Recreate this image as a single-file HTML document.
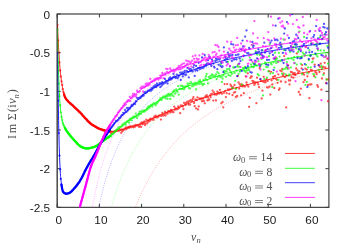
<!DOCTYPE html>
<html><head><meta charset="utf-8"><title>plot</title>
<style>html,body{margin:0;padding:0;background:#fff;overflow:hidden}svg{display:block;will-change:transform}</style>
</head><body>
<svg width="351" height="246" viewBox="0 0 351 246">
<defs><clipPath id="c"><rect x="57.2" y="14.0" width="271.70" height="193.35"/></clipPath></defs>
<rect width="351" height="246" fill="#fff"/>
<rect x="57.2" y="14.0" width="271.70" height="193.35" fill="none" stroke="#3a3a3a" stroke-width="1.15"/>
<path d="M57.20 207.35v-3.5M57.20 14.0v3.5M99.40 207.35v-3.5M99.40 14.0v3.5M141.60 207.35v-3.5M141.60 14.0v3.5M183.80 207.35v-3.5M183.80 14.0v3.5M226.00 207.35v-3.5M226.00 14.0v3.5M268.20 207.35v-3.5M268.20 14.0v3.5M310.40 207.35v-3.5M310.40 14.0v3.5M57.2 14.00h3.5M328.9 14.00h-3.5M57.2 52.67h3.5M328.9 52.67h-3.5M57.2 91.34h3.5M328.9 91.34h-3.5M57.2 130.01h3.5M328.9 130.01h-3.5M57.2 168.68h3.5M328.9 168.68h-3.5M57.2 207.35h3.5M328.9 207.35h-3.5" stroke="#3a3a3a" stroke-width="1" fill="none"/>
<g clip-path="url(#c)" fill="none">
<path d="M132.3 215.1 L133.3 212.5 L134.3 209.9 L135.3 207.4 L136.3 205.0 L137.3 202.7 L138.3 200.4 L139.3 198.1 L140.3 195.9 L141.3 193.8 L142.3 191.7 L143.2 189.6 L144.2 187.6 L145.2 185.7 L146.2 183.8 L147.2 181.9 L148.2 180.1 L149.2 178.3 L150.2 176.5 L151.2 174.8 L152.2 173.1 L153.1 171.5 L154.1 169.9 L155.1 168.3 L156.1 166.8 L157.1 165.3 L158.1 163.8 L159.1 162.3 L160.1 160.9 L161.1 159.5 L162.1 158.1 L163.0 156.8 L164.0 155.4 L165.0 154.1 L166.0 152.9 L167.0 151.6 L168.0 150.4 L169.0 149.2 L170.0 148.0 L171.0 146.8 L172.0 145.7 L172.9 144.6 L173.9 143.4 L174.9 142.4 L175.9 141.3 L176.9 140.2 L177.9 139.2 L178.9 138.2 L179.9 137.2 L180.9 136.2 L181.9 135.2 L182.8 134.3 L183.8 133.3 L184.8 132.4 L185.8 131.5 L186.8 130.6 L187.8 129.7 L188.8 128.8 L189.8 128.0 L190.8 127.1 L191.8 126.3 L192.7 125.5 L193.7 124.7 L194.7 123.9 L195.7 123.1 L196.7 122.3 L197.7 121.6 L198.7 120.8 L199.7 120.1 L200.7 119.3 L201.7 118.6 L202.6 117.9 L203.6 117.2 L204.6 116.5 L205.6 115.8 L206.6 115.1 L207.6 114.5 L208.6 113.8 L209.6 113.2 L210.6 112.5 L211.6 111.9 L212.6 111.3 L213.5 110.7 L214.5 110.0 L215.5 109.4 L216.5 108.9 L217.5 108.3 L218.5 107.7 L219.5 107.1 L220.5 106.6 L221.5 106.0 L222.5 105.4 L223.4 104.9 L224.4 104.4 L225.4 103.8 L226.4 103.3 L227.4 102.8 L228.4 102.3 L229.4 101.8 L230.4 101.3 L231.4 100.8 L232.4 100.3 L233.3 99.8 L234.3 99.3 L235.3 98.8 L236.3 98.4 L237.3 97.9 L238.3 97.4 L239.3 97.0 L240.3 96.5 L241.3 96.1 L242.3 95.7 L243.2 95.2 L244.2 94.8 L245.2 94.4 L246.2 93.9 L247.2 93.5 L248.2 93.1 L249.2 92.7 L250.2 92.3 L251.2 91.9 L252.2 91.5 L253.1 91.1 L254.1 90.7 L255.1 90.3 L256.1 90.0 L257.1 89.6 L258.1 89.2 L259.1 88.8 L260.1 88.5 L261.1 88.1 L262.1 87.8 L263.0 87.4 L264.0 87.1 L265.0 86.7 L266.0 86.4 L267.0 86.0 L268.0 85.7 L269.0 85.3 L270.0 85.0 L271.0 84.7 L272.0 84.4 L273.0 84.0 L273.9 83.7 L274.9 83.4 L275.9 83.1 L276.9 82.8 L277.9 82.5 L278.9 82.2 L279.9 81.9 L280.9 81.6 L281.9 81.3 L282.9 81.0 L283.8 80.7 L284.8 80.4 L285.8 80.1 L286.8 79.8 L287.8 79.5 L288.8 79.2 L289.8 79.0 L290.8 78.7 L291.8 78.4 L292.8 78.2 L293.7 77.9 L294.7 77.6 L295.7 77.4 L296.7 77.1 L297.7 76.8 L298.7 76.6 L299.7 76.3 L300.7 76.1 L301.7 75.8 L302.7 75.6 L303.6 75.3 L304.6 75.1 L305.6 74.8 L306.6 74.6 L307.6 74.3 L308.6 74.1 L309.6 73.9 L310.6 73.6 L311.6 73.4 L312.6 73.2 L313.5 72.9 L314.5 72.7 L315.5 72.5 L316.5 72.3 L317.5 72.1 L318.5 71.8 L319.5 71.6 L320.5 71.4 L321.5 71.2 L322.5 71.0 L323.4 70.8 L324.4 70.5 L325.4 70.3 L326.4 70.1 L327.4 69.9 L328.4 69.7 L329.4 69.5" stroke="#ff0000" stroke-width="0.6" stroke-dasharray="0.9 1.4" opacity="0.55"/>
<path d="M109.3 215.1 L110.4 210.9 L111.5 206.9 L112.6 203.0 L113.7 199.3 L114.8 195.8 L115.9 192.4 L117.0 189.1 L118.1 185.9 L119.3 182.8 L120.4 179.9 L121.5 177.0 L122.6 174.3 L123.7 171.6 L124.8 169.0 L125.9 166.5 L127.0 164.1 L128.1 161.8 L129.2 159.5 L130.3 157.3 L131.4 155.2 L132.5 153.1 L133.6 151.1 L134.7 149.1 L135.8 147.2 L137.0 145.4 L138.1 143.6 L139.2 141.8 L140.3 140.1 L141.4 138.5 L142.5 136.8 L143.6 135.3 L144.7 133.7 L145.8 132.2 L146.9 130.8 L148.0 129.4 L149.1 128.0 L150.2 126.6 L151.3 125.3 L152.4 124.0 L153.5 122.7 L154.6 121.5 L155.8 120.3 L156.9 119.1 L158.0 118.0 L159.1 116.8 L160.2 115.7 L161.3 114.7 L162.4 113.6 L163.5 112.6 L164.6 111.5 L165.7 110.6 L166.8 109.6 L167.9 108.6 L169.0 107.7 L170.1 106.8 L171.2 105.9 L172.3 105.0 L173.4 104.1 L174.6 103.3 L175.7 102.4 L176.8 101.6 L177.9 100.8 L179.0 100.0 L180.1 99.3 L181.2 98.5 L182.3 97.7 L183.4 97.0 L184.5 96.3 L185.6 95.6 L186.7 94.9 L187.8 94.2 L188.9 93.5 L190.0 92.9 L191.1 92.2 L192.2 91.6 L193.4 90.9 L194.5 90.3 L195.6 89.7 L196.7 89.1 L197.8 88.5 L198.9 87.9 L200.0 87.4 L201.1 86.8 L202.2 86.3 L203.3 85.7 L204.4 85.2 L205.5 84.6 L206.6 84.1 L207.7 83.6 L208.8 83.1 L209.9 82.6 L211.1 82.1 L212.2 81.6 L213.3 81.1 L214.4 80.7 L215.5 80.2 L216.6 79.7 L217.7 79.3 L218.8 78.8 L219.9 78.4 L221.0 78.0 L222.1 77.5 L223.2 77.1 L224.3 76.7 L225.4 76.3 L226.5 75.9 L227.6 75.5 L228.7 75.1 L229.9 74.7 L231.0 74.3 L232.1 73.9 L233.2 73.5 L234.3 73.2 L235.4 72.8 L236.5 72.4 L237.6 72.1 L238.7 71.7 L239.8 71.4 L240.9 71.0 L242.0 70.7 L243.1 70.3 L244.2 70.0 L245.3 69.7 L246.4 69.4 L247.5 69.0 L248.7 68.7 L249.8 68.4 L250.9 68.1 L252.0 67.8 L253.1 67.5 L254.2 67.2 L255.3 66.9 L256.4 66.6 L257.5 66.3 L258.6 66.0 L259.7 65.7 L260.8 65.5 L261.9 65.2 L263.0 64.9 L264.1 64.6 L265.2 64.4 L266.3 64.1 L267.5 63.8 L268.6 63.6 L269.7 63.3 L270.8 63.1 L271.9 62.8 L273.0 62.6 L274.1 62.3 L275.2 62.1 L276.3 61.8 L277.4 61.6 L278.5 61.3 L279.6 61.1 L280.7 60.9 L281.8 60.6 L282.9 60.4 L284.0 60.2 L285.2 60.0 L286.3 59.7 L287.4 59.5 L288.5 59.3 L289.6 59.1 L290.7 58.9 L291.8 58.7 L292.9 58.5 L294.0 58.2 L295.1 58.0 L296.2 57.8 L297.3 57.6 L298.4 57.4 L299.5 57.2 L300.6 57.0 L301.7 56.8 L302.8 56.6 L304.0 56.5 L305.1 56.3 L306.2 56.1 L307.3 55.9 L308.4 55.7 L309.5 55.5 L310.6 55.3 L311.7 55.2 L312.8 55.0 L313.9 54.8 L315.0 54.6 L316.1 54.5 L317.2 54.3 L318.3 54.1 L319.4 54.0 L320.5 53.8 L321.6 53.6 L322.8 53.5 L323.9 53.3 L325.0 53.1 L326.1 53.0 L327.2 52.8 L328.3 52.6 L329.4 52.5" stroke="#00ff00" stroke-width="0.6" stroke-dasharray="0.9 1.4" opacity="0.55"/>
<path d="M97.1 215.1 L98.3 209.4 L99.5 204.0 L100.6 198.9 L101.8 194.0 L103.0 189.4 L104.1 185.1 L105.3 180.9 L106.5 177.0 L107.6 173.2 L108.8 169.6 L110.0 166.2 L111.1 162.9 L112.3 159.7 L113.5 156.7 L114.6 153.8 L115.8 151.0 L117.0 148.3 L118.1 145.8 L119.3 143.3 L120.5 140.9 L121.6 138.6 L122.8 136.4 L124.0 134.2 L125.1 132.2 L126.3 130.2 L127.5 128.3 L128.6 126.4 L129.8 124.6 L131.0 122.8 L132.1 121.1 L133.3 119.5 L134.5 117.9 L135.6 116.4 L136.8 114.9 L138.0 113.4 L139.1 112.0 L140.3 110.6 L141.5 109.3 L142.6 108.0 L143.8 106.7 L145.0 105.5 L146.1 104.3 L147.3 103.1 L148.5 102.0 L149.6 100.8 L150.8 99.8 L152.0 98.7 L153.2 97.7 L154.3 96.7 L155.5 95.7 L156.7 94.7 L157.8 93.8 L159.0 92.9 L160.2 92.0 L161.3 91.1 L162.5 90.3 L163.7 89.4 L164.8 88.6 L166.0 87.8 L167.2 87.0 L168.3 86.3 L169.5 85.5 L170.7 84.8 L171.8 84.0 L173.0 83.3 L174.2 82.6 L175.3 82.0 L176.5 81.3 L177.7 80.7 L178.8 80.0 L180.0 79.4 L181.2 78.8 L182.3 78.2 L183.5 77.6 L184.7 77.0 L185.8 76.4 L187.0 75.9 L188.2 75.3 L189.3 74.8 L190.5 74.2 L191.7 73.7 L192.8 73.2 L194.0 72.7 L195.2 72.2 L196.3 71.7 L197.5 71.2 L198.7 70.8 L199.8 70.3 L201.0 69.8 L202.2 69.4 L203.3 68.9 L204.5 68.5 L205.7 68.1 L206.8 67.7 L208.0 67.2 L209.2 66.8 L210.3 66.4 L211.5 66.0 L212.7 65.6 L213.8 65.3 L215.0 64.9 L216.2 64.5 L217.3 64.1 L218.5 63.8 L219.7 63.4 L220.8 63.1 L222.0 62.7 L223.2 62.4 L224.3 62.0 L225.5 61.7 L226.7 61.4 L227.8 61.0 L229.0 60.7 L230.2 60.4 L231.3 60.1 L232.5 59.8 L233.7 59.5 L234.9 59.2 L236.0 58.9 L237.2 58.6 L238.4 58.3 L239.5 58.0 L240.7 57.8 L241.9 57.5 L243.0 57.2 L244.2 56.9 L245.4 56.7 L246.5 56.4 L247.7 56.1 L248.9 55.9 L250.0 55.6 L251.2 55.4 L252.4 55.1 L253.5 54.9 L254.7 54.7 L255.9 54.4 L257.0 54.2 L258.2 53.9 L259.4 53.7 L260.5 53.5 L261.7 53.3 L262.9 53.0 L264.0 52.8 L265.2 52.6 L266.4 52.4 L267.5 52.2 L268.7 52.0 L269.9 51.8 L271.0 51.5 L272.2 51.3 L273.4 51.1 L274.5 50.9 L275.7 50.7 L276.9 50.5 L278.0 50.4 L279.2 50.2 L280.4 50.0 L281.5 49.8 L282.7 49.6 L283.9 49.4 L285.0 49.2 L286.2 49.1 L287.4 48.9 L288.5 48.7 L289.7 48.5 L290.9 48.4 L292.0 48.2 L293.2 48.0 L294.4 47.9 L295.5 47.7 L296.7 47.5 L297.9 47.4 L299.0 47.2 L300.2 47.0 L301.4 46.9 L302.5 46.7 L303.7 46.6 L304.9 46.4 L306.0 46.3 L307.2 46.1 L308.4 46.0 L309.5 45.8 L310.7 45.7 L311.9 45.5 L313.0 45.4 L314.2 45.2 L315.4 45.1 L316.6 45.0 L317.7 44.8 L318.9 44.7 L320.1 44.5 L321.2 44.4 L322.4 44.3 L323.6 44.1 L324.7 44.0 L325.9 43.9 L327.1 43.8 L328.2 43.6 L329.4 43.5" stroke="#0000ff" stroke-width="0.6" stroke-dasharray="0.9 1.4" opacity="0.55"/>
<path d="M91.0 215.1 L92.2 208.2 L93.4 201.8 L94.6 195.7 L95.8 190.1 L97.0 184.8 L98.1 179.8 L99.3 175.1 L100.5 170.6 L101.7 166.4 L102.9 162.4 L104.1 158.6 L105.3 155.0 L106.5 151.6 L107.7 148.3 L108.9 145.2 L110.1 142.3 L111.3 139.4 L112.5 136.7 L113.7 134.1 L114.9 131.6 L116.1 129.2 L117.3 126.9 L118.5 124.7 L119.7 122.6 L120.9 120.5 L122.1 118.6 L123.3 116.7 L124.5 114.9 L125.7 113.1 L126.9 111.4 L128.1 109.7 L129.3 108.2 L130.5 106.6 L131.7 105.1 L132.9 103.7 L134.1 102.3 L135.3 100.9 L136.5 99.6 L137.7 98.3 L138.9 97.1 L140.1 95.9 L141.3 94.7 L142.5 93.6 L143.7 92.5 L144.9 91.4 L146.1 90.4 L147.3 89.4 L148.5 88.4 L149.7 87.4 L150.9 86.5 L152.1 85.6 L153.3 84.7 L154.5 83.8 L155.7 82.9 L156.9 82.1 L158.1 81.3 L159.3 80.5 L160.5 79.7 L161.7 79.0 L162.8 78.3 L164.0 77.5 L165.2 76.8 L166.4 76.1 L167.6 75.5 L168.8 74.8 L170.0 74.2 L171.2 73.5 L172.4 72.9 L173.6 72.3 L174.8 71.7 L176.0 71.1 L177.2 70.6 L178.4 70.0 L179.6 69.5 L180.8 68.9 L182.0 68.4 L183.2 67.9 L184.4 67.4 L185.6 66.9 L186.8 66.4 L188.0 65.9 L189.2 65.4 L190.4 65.0 L191.6 64.5 L192.8 64.1 L194.0 63.6 L195.2 63.2 L196.4 62.8 L197.6 62.4 L198.8 61.9 L200.0 61.5 L201.2 61.1 L202.4 60.8 L203.6 60.4 L204.8 60.0 L206.0 59.6 L207.2 59.3 L208.4 58.9 L209.6 58.6 L210.8 58.2 L212.0 57.9 L213.2 57.5 L214.4 57.2 L215.6 56.9 L216.8 56.5 L218.0 56.2 L219.2 55.9 L220.4 55.6 L221.6 55.3 L222.8 55.0 L224.0 54.7 L225.2 54.4 L226.3 54.1 L227.5 53.9 L228.7 53.6 L229.9 53.3 L231.1 53.0 L232.3 52.8 L233.5 52.5 L234.7 52.2 L235.9 52.0 L237.1 51.7 L238.3 51.5 L239.5 51.2 L240.7 51.0 L241.9 50.7 L243.1 50.5 L244.3 50.3 L245.5 50.0 L246.7 49.8 L247.9 49.6 L249.1 49.4 L250.3 49.2 L251.5 48.9 L252.7 48.7 L253.9 48.5 L255.1 48.3 L256.3 48.1 L257.5 47.9 L258.7 47.7 L259.9 47.5 L261.1 47.3 L262.3 47.1 L263.5 46.9 L264.7 46.7 L265.9 46.5 L267.1 46.3 L268.3 46.2 L269.5 46.0 L270.7 45.8 L271.9 45.6 L273.1 45.4 L274.3 45.3 L275.5 45.1 L276.7 44.9 L277.9 44.8 L279.1 44.6 L280.3 44.4 L281.5 44.3 L282.7 44.1 L283.9 44.0 L285.1 43.8 L286.3 43.6 L287.5 43.5 L288.7 43.3 L289.9 43.2 L291.0 43.0 L292.2 42.9 L293.4 42.7 L294.6 42.6 L295.8 42.4 L297.0 42.3 L298.2 42.2 L299.4 42.0 L300.6 41.9 L301.8 41.8 L303.0 41.6 L304.2 41.5 L305.4 41.3 L306.6 41.2 L307.8 41.1 L309.0 41.0 L310.2 40.8 L311.4 40.7 L312.6 40.6 L313.8 40.5 L315.0 40.3 L316.2 40.2 L317.4 40.1 L318.6 40.0 L319.8 39.9 L321.0 39.7 L322.2 39.6 L323.4 39.5 L324.6 39.4 L325.8 39.3 L327.0 39.2 L328.2 39.1 L329.4 38.9" stroke="#ff00ff" stroke-width="0.6" stroke-dasharray="0.9 1.4" opacity="0.55"/>
<path d="M57.5 24.8h0M58.2 40.3h0M58.9 52.7h0M59.5 62.6h0M60.2 70.5h0M60.8 76.5h0M61.5 81.3h0M62.2 85.1h0M62.8 89.1h0M63.5 92.2h0M64.2 94.7h0M64.8 96.6h0M65.5 97.9h0M66.1 99.3h0M66.8 99.8h0M67.5 100.5h0M68.1 101.6h0M68.8 102.1h0M69.5 102.8h0M70.1 103.4h0M70.8 104.1h0M71.5 104.4h0M72.1 105.0h0M72.8 105.5h0M73.4 106.1h0M74.1 106.8h0M74.8 107.8h0M75.4 108.1h0M76.1 108.7h0M76.8 109.3h0M77.4 110.2h0M78.1 110.6h0M78.7 111.7h0M79.4 111.9h0M80.1 112.3h0M80.7 113.3h0M81.4 113.8h0M82.1 114.4h0M82.7 115.8h0M83.4 116.3h0M84.0 116.8h0M84.7 117.6h0M85.4 118.5h0M86.0 119.0h0M86.7 119.5h0M87.4 121.0h0M88.0 121.0h0M88.7 121.8h0M89.3 122.5h0M90.0 122.6h0M90.7 123.6h0M91.3 124.3h0M92.0 124.6h0M92.7 124.9h0M93.3 125.4h0M94.0 125.7h0M94.7 126.2h0M95.3 126.7h0M96.0 126.7h0M96.6 127.6h0M97.3 127.7h0M98.0 128.3h0M98.6 128.4h0M99.3 128.9h0M100.0 129.1h0M100.6 129.3h0M101.3 129.2h0M101.9 129.5h0M102.6 130.3h0M103.3 130.2h0M103.9 130.0h0M104.6 131.2h0M105.3 130.7h0M105.9 130.7h0M106.6 130.5h0M107.2 130.6h0M107.9 131.3h0M108.6 131.5h0M109.2 131.5h0M109.9 131.9h0M110.6 131.7h0M111.2 133.4h0M111.9 131.6h0M112.6 131.8h0M113.2 131.8h0M113.9 132.3h0M114.5 131.5h0M115.2 131.7h0M115.9 130.6h0M116.5 130.8h0M117.2 130.9h0M117.9 130.5h0M118.5 130.7h0M119.2 129.5h0M119.8 130.3h0M120.5 129.9h0M121.2 132.8h0M121.8 129.5h0M122.5 131.3h0M123.2 130.4h0M123.8 129.5h0M124.5 129.4h0M125.1 128.5h0M125.8 127.3h0M126.5 129.0h0M127.1 128.2h0M127.8 127.5h0M128.5 127.0h0M129.1 127.9h0M129.8 127.2h0M130.4 126.2h0M131.1 127.0h0M131.8 127.2h0M132.4 126.5h0M133.1 126.2h0M133.8 127.3h0M134.4 125.6h0M135.1 126.7h0M135.8 125.0h0M136.4 125.3h0M137.1 125.1h0M137.7 125.7h0M138.4 124.9h0M139.1 126.9h0M139.7 125.6h0M140.4 123.6h0M141.1 126.9h0M141.7 122.4h0M142.4 124.3h0M143.0 122.4h0M143.7 123.7h0M144.4 121.3h0M145.0 125.1h0M145.7 123.7h0M146.4 119.7h0M147.0 123.4h0M147.7 120.8h0M148.3 121.8h0M149.0 120.2h0M149.7 121.1h0M150.3 118.7h0M151.0 119.5h0M151.7 118.9h0M152.3 119.6h0M153.0 118.7h0M153.6 119.8h0M154.3 116.7h0M155.0 117.4h0M155.6 115.6h0M156.3 116.7h0M157.0 117.5h0M157.6 116.7h0M158.3 116.8h0M159.0 115.6h0M159.6 115.7h0M160.3 115.6h0M160.9 119.6h0M161.6 115.9h0M162.3 112.9h0M162.9 115.1h0M163.6 115.5h0M164.3 114.7h0M164.9 112.0h0M165.6 115.5h0M166.2 113.0h0M166.9 113.0h0M167.6 113.7h0M168.2 111.2h0M168.9 111.6h0M169.6 111.2h0M170.2 112.5h0M170.9 109.9h0M171.5 111.6h0M172.2 110.5h0M172.9 112.2h0M173.5 112.2h0M174.2 106.6h0M174.9 109.7h0M175.5 108.3h0M176.2 108.6h0M176.8 109.3h0M177.5 109.2h0M178.2 106.4h0M178.8 108.2h0M179.5 107.6h0M180.2 113.2h0M180.8 105.3h0M181.5 105.6h0M182.2 105.7h0M182.8 106.6h0M183.5 109.1h0M184.1 102.9h0M184.8 103.8h0M185.5 105.1h0M186.1 103.0h0M186.8 102.1h0M187.5 101.7h0M188.1 102.4h0M188.8 104.7h0M189.4 101.0h0M190.1 104.6h0M190.8 100.1h0M191.4 100.9h0M192.1 100.8h0M192.8 99.0h0M193.4 97.1h0M194.1 103.0h0M194.7 106.2h0M195.4 99.5h0M196.1 108.4h0M196.7 100.2h0M197.4 97.3h0M198.1 109.4h0M198.7 106.4h0M199.4 98.4h0M200.0 98.9h0M200.7 99.2h0M201.4 98.4h0M202.0 101.3h0M202.7 100.7h0M203.4 98.4h0M204.0 101.1h0M204.7 103.3h0M205.4 96.3h0M206.0 97.2h0M206.7 95.2h0M207.3 100.3h0M208.0 97.6h0M208.7 100.0h0M209.3 99.4h0M210.0 95.3h0M210.7 97.1h0M211.3 93.8h0M212.0 93.6h0M212.6 90.6h0M213.3 100.6h0M214.0 92.5h0M214.6 94.6h0M215.3 94.1h0M216.0 100.4h0M216.6 94.7h0M217.3 91.7h0M217.9 93.4h0M218.6 92.8h0M219.3 93.5h0M219.9 89.8h0M220.6 92.5h0M221.3 103.3h0M221.9 93.8h0M222.6 102.0h0M223.3 107.3h0M223.9 92.8h0M224.6 84.1h0M225.2 90.8h0M225.9 97.1h0M226.6 93.2h0M227.2 84.1h0M227.9 89.4h0M228.6 89.8h0M229.2 93.8h0M229.9 89.4h0M230.5 84.7h0M231.2 86.0h0M231.9 88.4h0M232.5 95.2h0M233.2 87.1h0M233.9 92.7h0M234.5 84.9h0M235.2 92.1h0M235.8 96.9h0M236.5 87.8h0M237.2 96.0h0M237.8 76.1h0M238.5 82.4h0M239.2 88.5h0M239.8 84.2h0M240.5 85.3h0M241.1 95.3h0M241.8 84.5h0M242.5 86.4h0M243.1 85.3h0M243.8 93.2h0M244.5 86.4h0M245.1 86.6h0M245.8 76.5h0M246.5 82.5h0M247.1 84.8h0M247.8 73.3h0M248.4 86.5h0M249.1 106.8h0M249.8 97.8h0M250.4 77.9h0M251.1 76.3h0M251.8 76.5h0M252.4 80.8h0M253.1 82.4h0M253.7 81.4h0M254.4 84.9h0M255.1 83.6h0M255.7 82.4h0M256.4 103.2h0M257.1 77.7h0M257.7 82.6h0M258.4 84.4h0M259.0 87.1h0M259.7 68.0h0M260.4 79.3h0M261.0 81.0h0M261.7 98.5h0M262.4 90.7h0M263.0 81.4h0M263.7 76.8h0M264.3 82.3h0M265.0 81.4h0M265.7 82.2h0M266.3 79.1h0M267.0 87.3h0M267.7 80.9h0M268.3 87.6h0M269.0 71.2h0M269.7 86.6h0M270.3 94.6h0M271.0 71.8h0M271.6 80.4h0M272.3 84.5h0M273.0 76.8h0M273.6 78.5h0M274.3 88.0h0M275.0 75.9h0M275.6 58.3h0M276.3 79.2h0M276.9 79.8h0M277.6 82.8h0M278.3 74.3h0M278.9 89.8h0M279.6 88.4h0M280.3 70.6h0M280.9 81.5h0M281.6 71.3h0M282.2 68.9h0M282.9 75.2h0M283.6 73.6h0M284.2 56.1h0M284.9 77.2h0M285.6 82.2h0M286.2 107.4h0M286.9 75.6h0M287.5 67.8h0M288.2 65.3h0M288.9 80.4h0M289.5 84.4h0M290.2 80.5h0M290.9 71.9h0M291.5 77.1h0M292.2 72.4h0M292.9 73.0h0M293.5 77.7h0M294.2 74.6h0M294.8 73.1h0M295.5 75.0h0M296.2 68.5h0M296.8 53.4h0M297.5 70.5h0M298.2 73.0h0M298.8 92.0h0M299.5 71.3h0M300.1 94.7h0M300.8 88.7h0M301.5 68.3h0M302.1 65.1h0M302.8 73.6h0M303.5 82.2h0M304.1 74.6h0M304.8 80.0h0M305.4 68.7h0M306.1 46.8h0M306.8 69.6h0M307.4 76.3h0M308.1 85.0h0M308.8 72.3h0M309.4 98.2h0M310.1 84.5h0M310.8 70.0h0M311.4 84.3h0M312.1 70.3h0M312.7 58.8h0M313.4 58.4h0M314.1 76.2h0M314.7 64.7h0M315.4 72.0h0M316.1 72.6h0M316.7 74.2h0M317.4 85.2h0M318.0 86.8h0M318.7 65.3h0M319.4 72.0h0M320.0 67.1h0M320.7 63.7h0M321.4 89.7h0M322.0 78.5h0M322.7 67.1h0M323.3 66.8h0M324.0 73.4h0M324.7 62.8h0M325.3 67.5h0M326.0 83.0h0M326.7 79.5h0M327.3 58.8h0M328.0 101.2h0M328.6 79.5h0" stroke="#ff0000" stroke-width="2.3" stroke-linecap="round" opacity="0.68"/>
<path d="M64.0 94.0 L64.1 94.4 L64.2 94.8 L64.3 95.1 L64.4 95.5 L64.5 95.8 L64.6 96.1 L64.7 96.3 L64.8 96.5 L64.9 96.8 L65.0 97.0 L65.1 97.2 L65.2 97.4 L65.3 97.5 L65.4 97.7 L65.5 97.9 L65.6 98.1 L65.7 98.2 L65.8 98.4 L65.9 98.5 L66.0 98.7 L66.1 98.8 L66.2 99.0 L66.3 99.1 L66.4 99.2 L66.5 99.4 L66.6 99.5 L66.7 99.6 L66.8 99.8 L66.9 99.9 L67.0 100.0 L67.1 100.1 L67.2 100.3 L67.3 100.4 L67.4 100.5 L67.5 100.6 L67.6 100.7 L67.7 100.8 L67.8 100.9 L67.9 101.1 L68.0 101.2 L68.1 101.3 L68.2 101.4 L68.3 101.5 L68.4 101.6 L68.5 101.7 L68.6 101.8 L68.7 101.9 L68.8 102.0 L68.9 102.1 L69.0 102.2 L69.1 102.3 L69.2 102.4 L69.3 102.5 L69.4 102.5 L69.5 102.6 L69.6 102.7 L69.7 102.8 L69.8 102.9 L69.9 103.0 L70.3 103.3 L70.7 103.7 L71.1 104.0 L71.5 104.4 L71.9 104.7 L72.3 105.1 L72.7 105.5 L73.1 105.8 L73.5 106.2 L73.9 106.6 L74.3 107.0 L74.7 107.4 L75.1 107.7 L75.5 108.1 L75.9 108.5 L76.3 108.9 L76.7 109.3 L77.1 109.6 L77.6 110.0 L78.0 110.4 L78.4 110.8 L78.8 111.2 L79.2 111.6 L79.6 112.0 L80.0 112.4 L80.4 112.8 L80.8 113.2 L81.2 113.6 L81.6 114.1 L82.0 114.5 L82.4 115.0 L82.8 115.4 L83.2 115.9 L83.6 116.4 L84.0 116.8 L84.4 117.3 L84.8 117.7 L85.2 118.2 L85.7 118.6 L86.1 119.1 L86.5 119.5 L86.9 119.9 L87.3 120.3 L87.7 120.8 L88.1 121.2 L88.5 121.6 L88.9 122.0 L89.3 122.4 L89.7 122.8 L90.1 123.1 L90.5 123.5 L90.9 123.8 L91.3 124.1 L91.7 124.4 L92.1 124.7 L92.5 124.9 L92.9 125.2 L93.3 125.4 L93.8 125.7 L94.2 125.9 L94.6 126.2 L95.0 126.4 L95.4 126.7 L95.8 126.9 L96.2 127.2 L96.6 127.4 L97.0 127.6 L97.4 127.8 L97.8 128.1 L98.2 128.3 L98.6 128.4 L99.0 128.6 L99.4 128.8 L99.8 129.0 L100.2 129.1 L100.6 129.3 L101.0 129.4 L101.4 129.5 L101.9 129.7 L102.3 129.8 L102.7 129.9 L103.1 130.0 L103.5 130.1 L103.9 130.2 L104.3 130.3 L104.7 130.4 L105.1 130.5 L105.5 130.6 L105.9 130.7 L106.3 130.8 L106.7 130.8 L107.1 130.9 L107.5 131.0 L107.9 131.1 L108.3 131.2 L108.7 131.3 L109.1 131.4 L109.5 131.5 L110.0 131.5" stroke="#ff0000" stroke-width="2.2" stroke-linejoin="round" stroke-linecap="round"/>
<path d="M57.5 24.8 L57.6 27.5 L57.7 30.0 L57.8 32.5 L57.9 34.9 L58.0 37.2 L58.2 39.4 L58.3 41.6 L58.4 43.7 L58.5 45.7 L58.6 47.6 L58.7 49.5 L58.8 51.3 L58.9 53.0 L59.0 54.7 L59.1 56.3 L59.2 57.9 L59.3 59.4 L59.4 60.8 L59.5 62.2 L59.6 63.6 L59.7 64.9 L59.8 66.2 L59.9 67.5 L60.0 68.7 L60.1 69.8 L60.2 70.9 L60.3 71.9 L60.4 72.9 L60.5 73.8 L60.6 74.7 L60.7 75.6 L60.8 76.4 L61.0 77.2 L61.1 78.1 L61.2 78.8 L61.3 79.6 L61.4 80.3 L61.5 81.0 L61.6 81.7 L61.7 82.3 L61.8 82.9 L61.9 83.5 L62.0 84.1 L62.1 84.7 L62.2 85.3 L62.3 85.9 L62.4 86.5 L62.5 87.1 L62.6 87.8 L62.7 88.4 L62.8 88.9 L62.9 89.5 L63.0 90.0 L63.1 90.5 L63.2 90.9 L63.3 91.4 L63.4 91.9 L63.5 92.3 L63.6 92.7 L63.7 93.2 L63.9 93.6 L64.0 94.0 L64.1 94.4 L64.2 94.8 L64.3 95.2 L64.4 95.5 L64.5 95.8 L64.6 96.1 L64.7 96.4 L64.8 96.6 L64.9 96.8 L65.0 97.1 L65.1 97.3 L65.2 97.4 L65.3 97.6 L65.4 97.8 L65.5 98.0 L65.6 98.1 L65.7 98.3 L65.8 98.5 L65.9 98.6 L66.0 98.8 L66.1 98.9 L66.2 99.1 L66.3 99.2 L66.4 99.4 L66.5 99.5 L66.6 99.6 L66.8 99.8 L66.9 99.9 L67.0 100.0 L67.1 100.2 L67.2 100.3 L67.3 100.4 L67.4 100.5 L67.5 100.6 L67.6 100.8 L67.7 100.9 L67.8 101.0 L67.9 101.1 L68.0 101.2 L68.1 101.3 L68.2 101.4 L68.3 101.5 L68.4 101.6 L68.5 101.7 L68.6 101.8 L68.7 101.9 L68.8 102.0 L68.9 102.1 L69.0 102.2 L69.1 102.3 L69.2 102.4 L69.3 102.5 L69.4 102.6 L69.5 102.7 L69.7 102.8 L69.8 102.9 L69.9 103.0 L70.7 103.7 L71.6 104.5 L72.5 105.3 L73.3 106.1 L74.2 106.9 L75.1 107.7 L75.9 108.5 L76.8 109.3 L77.7 110.1 L78.6 111.0 L79.4 111.8 L80.3 112.7 L81.2 113.6 L82.0 114.5 L82.9 115.5 L83.8 116.5 L84.6 117.5 L85.5 118.5 L86.4 119.4 L87.2 120.3 L88.1 121.2 L89.0 122.1 L89.9 122.9 L90.7 123.6 L91.6 124.3 L92.5 124.9 L93.3 125.4 L94.2 125.9 L95.1 126.5 L95.9 127.0 L96.8 127.5 L97.7 128.0 L98.6 128.4 L99.4 128.8 L100.3 129.1 L101.2 129.4 L102.0 129.7 L102.9 130.0 L103.8 130.2 L104.6 130.4 L105.5 130.6 L106.4 130.8 L107.2 131.0 L108.1 131.2 L109.0 131.4 L109.9 131.5 L110.7 131.6 L111.6 131.7 L112.5 131.7 L113.3 131.6 L114.2 131.5 L115.1 131.4 L115.9 131.2 L116.8 131.0 L117.7 130.8 L118.5 130.6 L119.4 130.4 L120.3 130.2 L121.2 130.0 L122.0 129.8 L122.9 129.5 L123.8 129.2 L124.6 128.9 L125.5 128.5 L126.4 128.2 L127.2 127.8 L128.1 127.6 L129.0 127.3 L129.8 127.1 L130.7 126.9 L131.6 126.6 L132.5 126.4 L133.3 126.2 L134.2 126.0 L135.1 125.8 L135.9 125.5 L136.8 125.3 L137.7 125.0 L138.5 124.7 L139.4 124.4 L140.3 124.1 L141.2 123.7 L142.0 123.4 L142.9 123.0 L143.8 122.6 L144.6 122.2 L145.5 121.8 L146.4 121.4 L147.2 120.9 L148.1 120.5 L149.0 120.1 L149.8 119.7 L150.7 119.3 L151.6 118.9 L152.5 118.4 L153.3 118.0 L154.2 117.7 L155.1 117.3 L155.9 116.9 L156.8 116.5 L157.7 116.2 L158.5 115.8 L159.4 115.5 L160.3 115.1 L161.1 114.7 L162.0 114.4 L162.9 114.0 L163.8 113.7 L164.6 113.3 L165.5 113.0 L166.4 112.6 L167.2 112.3 L168.1 111.9 L169.0 111.6 L169.8 111.2 L170.7 110.9 L171.6 110.5 L172.4 110.1 L173.3 109.8 L174.2 109.4 L175.1 109.1 L175.9 108.7 L176.8 108.4 L177.7 108.0 L178.5 107.6 L179.4 107.3 L180.3 106.9 L181.1 106.5 L182.0 106.2 L182.9 105.8 L183.8 105.5 L184.6 105.1 L185.5 104.7 L186.4 104.4 L187.2 104.0 L188.1 103.7 L189.0 103.3 L189.8 103.0 L190.7 102.6 L191.6 102.3 L192.4 101.9 L193.3 101.6 L194.2 101.2 L195.1 100.9 L195.9 100.5 L196.8 100.2 L197.7 99.9 L198.5 99.5 L199.4 99.2 L200.3 98.9 L201.1 98.6 L202.0 98.3 L202.9 98.0 L203.7 97.7 L204.6 97.4 L205.5 97.1 L206.4 96.8 L207.2 96.6 L208.1 96.3 L209.0 96.0 L209.8 95.7 L210.7 95.5 L211.6 95.2 L212.4 94.9 L213.3 94.6 L214.2 94.4 L215.1 94.1 L215.9 93.8 L216.8 93.6 L217.7 93.3 L218.5 93.0 L219.4 92.8 L220.3 92.5 L221.1 92.3 L222.0 92.0 L222.9 91.7 L223.7 91.5 L224.6 91.2 L225.5 91.0 L226.4 90.7 L227.2 90.4 L228.1 90.2 L229.0 89.9 L229.8 89.7 L230.7 89.4 L231.6 89.1 L232.4 88.9 L233.3 88.6 L234.2 88.4 L235.0 88.1 L235.9 87.9 L236.8 87.6 L237.7 87.4 L238.5 87.1 L239.4 86.9 L240.3 86.6 L241.1 86.4 L242.0 86.1 L242.9 85.9 L243.7 85.7 L244.6 85.4 L245.5 85.2 L246.3 85.0 L247.2 84.7 L248.1 84.5 L249.0 84.3 L249.8 84.1 L250.7 83.8 L251.6 83.6 L252.4 83.4 L253.3 83.2 L254.2 83.0 L255.0 82.7 L255.9 82.5 L256.8 82.3 L257.7 82.1 L258.5 81.9 L259.4 81.7 L260.3 81.5 L261.1 81.3 L262.0 81.1 L262.9 80.9 L263.7 80.7 L264.6 80.5 L265.5 80.3 L266.3 80.1 L267.2 79.9 L268.1 79.7 L269.0 79.5 L269.8 79.3 L270.7 79.1 L271.6 78.9 L272.4 78.7 L273.3 78.5 L274.2 78.4 L275.0 78.2 L275.9 78.0 L276.8 77.8 L277.6 77.6 L278.5 77.4 L279.4 77.3 L280.3 77.1 L281.1 76.9 L282.0 76.7 L282.9 76.6 L283.7 76.4 L284.6 76.2 L285.5 76.1 L286.3 75.9 L287.2 75.7 L288.1 75.5 L288.9 75.4 L289.8 75.2 L290.7 75.0 L291.6 74.9 L292.4 74.7 L293.3 74.6 L294.2 74.4 L295.0 74.2 L295.9 74.1 L296.8 73.9 L297.6 73.7 L298.5 73.6 L299.4 73.4 L300.3 73.2 L301.1 73.1 L302.0 72.9 L302.9 72.8 L303.7 72.6 L304.6 72.4 L305.5 72.3 L306.3 72.1 L307.2 72.0 L308.1 71.8 L308.9 71.6 L309.8 71.5 L310.7 71.3 L311.6 71.2 L312.4 71.0 L313.3 70.9 L314.2 70.7 L315.0 70.5 L315.9 70.4 L316.8 70.2 L317.6 70.1 L318.5 69.9 L319.4 69.8 L320.2 69.6 L321.1 69.5 L322.0 69.3 L322.9 69.2 L323.7 69.0 L324.6 68.9 L325.5 68.7 L326.3 68.6 L327.2 68.4 L328.1 68.3 L328.9 68.1 L329.8 68.0" stroke="#ff0000" stroke-width="0.9" stroke-linejoin="round"/>
<path d="M57.5 29.5h0M58.2 61.9h0M58.9 83.7h0M59.5 96.2h0M60.2 105.2h0M60.8 112.3h0M61.5 116.9h0M62.2 120.1h0M62.8 123.0h0M63.5 124.9h0M64.2 126.3h0M64.8 127.8h0M65.5 128.9h0M66.1 130.0h0M66.8 131.2h0M67.5 132.1h0M68.1 132.9h0M68.8 133.9h0M69.5 134.7h0M70.1 135.7h0M70.8 136.5h0M71.5 137.2h0M72.1 137.7h0M72.8 138.7h0M73.4 139.5h0M74.1 140.1h0M74.8 140.8h0M75.4 141.5h0M76.1 142.2h0M76.8 142.7h0M77.4 143.7h0M78.1 144.2h0M78.7 145.0h0M79.4 145.5h0M80.1 146.3h0M80.7 146.4h0M81.4 146.8h0M82.1 147.2h0M82.7 147.8h0M83.4 147.6h0M84.0 148.1h0M84.7 148.2h0M85.4 148.4h0M86.0 148.4h0M86.7 148.3h0M87.4 148.6h0M88.0 148.5h0M88.7 148.2h0M89.3 148.4h0M90.0 148.1h0M90.7 147.9h0M91.3 147.9h0M92.0 147.6h0M92.7 147.2h0M93.3 147.3h0M94.0 146.8h0M94.7 146.6h0M95.3 146.5h0M96.0 145.9h0M96.6 146.1h0M97.3 145.7h0M98.0 145.2h0M98.6 144.4h0M99.3 143.9h0M100.0 143.4h0M100.6 143.0h0M101.3 142.8h0M101.9 141.6h0M102.6 141.4h0M103.3 140.9h0M103.9 140.4h0M104.6 140.0h0M105.3 139.6h0M105.9 139.3h0M106.6 138.4h0M107.2 137.7h0M107.9 137.3h0M108.6 137.5h0M109.2 136.7h0M109.9 136.5h0M110.6 135.3h0M111.2 136.2h0M111.9 133.8h0M112.6 134.1h0M113.2 133.9h0M113.9 132.8h0M114.5 131.7h0M115.2 131.6h0M115.9 130.5h0M116.5 130.6h0M117.2 129.2h0M117.9 128.5h0M118.5 128.9h0M119.2 127.1h0M119.8 127.5h0M120.5 127.0h0M121.2 126.8h0M121.8 126.1h0M122.5 124.6h0M123.2 125.4h0M123.8 123.7h0M124.5 123.5h0M125.1 122.9h0M125.8 124.7h0M126.5 122.2h0M127.1 121.3h0M127.8 121.5h0M128.5 120.6h0M129.1 122.5h0M129.8 119.1h0M130.4 119.9h0M131.1 118.4h0M131.8 120.2h0M132.4 117.6h0M133.1 117.8h0M133.8 116.3h0M134.4 117.2h0M135.1 117.0h0M135.8 113.6h0M136.4 116.5h0M137.1 118.1h0M137.7 115.1h0M138.4 115.5h0M139.1 113.4h0M139.7 111.7h0M140.4 114.0h0M141.1 113.8h0M141.7 111.1h0M142.4 111.4h0M143.0 111.7h0M143.7 110.5h0M144.4 111.7h0M145.0 110.4h0M145.7 110.6h0M146.4 110.2h0M147.0 108.5h0M147.7 109.2h0M148.3 106.5h0M149.0 107.3h0M149.7 107.7h0M150.3 105.9h0M151.0 104.8h0M151.7 104.9h0M152.3 106.6h0M153.0 104.1h0M153.6 103.2h0M154.3 104.3h0M155.0 104.3h0M155.6 105.3h0M156.3 103.0h0M157.0 103.5h0M157.6 102.0h0M158.3 101.6h0M159.0 100.4h0M159.6 100.1h0M160.3 98.1h0M160.9 98.9h0M161.6 100.1h0M162.3 97.9h0M162.9 96.7h0M163.6 97.0h0M164.3 96.5h0M164.9 97.3h0M165.6 98.6h0M166.2 95.3h0M166.9 96.5h0M167.6 98.8h0M168.2 94.0h0M168.9 95.7h0M169.6 94.6h0M170.2 99.0h0M170.9 95.7h0M171.5 94.1h0M172.2 94.7h0M172.9 91.7h0M173.5 96.3h0M174.2 90.3h0M174.9 93.7h0M175.5 93.2h0M176.2 89.4h0M176.8 90.6h0M177.5 91.8h0M178.2 86.1h0M178.8 94.7h0M179.5 88.8h0M180.2 88.9h0M180.8 85.7h0M181.5 89.0h0M182.2 86.0h0M182.8 88.9h0M183.5 86.5h0M184.1 89.3h0M184.8 87.7h0M185.5 86.6h0M186.1 86.4h0M186.8 86.3h0M187.5 83.5h0M188.1 85.6h0M188.8 87.9h0M189.4 83.7h0M190.1 88.5h0M190.8 82.1h0M191.4 83.3h0M192.1 86.3h0M192.8 86.2h0M193.4 83.7h0M194.1 84.0h0M194.7 85.2h0M195.4 82.7h0M196.1 89.4h0M196.7 84.4h0M197.4 83.5h0M198.1 83.1h0M198.7 81.5h0M199.4 84.2h0M200.0 80.1h0M200.7 82.1h0M201.4 83.7h0M202.0 83.6h0M202.7 85.1h0M203.4 80.2h0M204.0 84.0h0M204.7 80.2h0M205.4 78.3h0M206.0 76.2h0M206.7 73.9h0M207.3 80.1h0M208.0 83.5h0M208.7 77.1h0M209.3 77.6h0M210.0 76.4h0M210.7 78.4h0M211.3 75.7h0M212.0 74.4h0M212.6 76.2h0M213.3 75.3h0M214.0 75.6h0M214.6 76.6h0M215.3 76.4h0M216.0 74.4h0M216.6 79.0h0M217.3 72.1h0M217.9 76.6h0M218.6 73.4h0M219.3 75.9h0M219.9 76.8h0M220.6 64.5h0M221.3 76.8h0M221.9 81.9h0M222.6 78.7h0M223.3 75.4h0M223.9 70.8h0M224.6 72.9h0M225.2 71.2h0M225.9 76.8h0M226.6 71.4h0M227.2 69.2h0M227.9 61.8h0M228.6 75.2h0M229.2 68.9h0M229.9 70.6h0M230.5 75.8h0M231.2 72.4h0M231.9 73.8h0M232.5 87.9h0M233.2 67.5h0M233.9 67.7h0M234.5 72.9h0M235.2 80.8h0M235.8 88.9h0M236.5 70.6h0M237.2 66.7h0M237.8 65.0h0M238.5 74.2h0M239.2 66.8h0M239.8 71.7h0M240.5 70.1h0M241.1 70.1h0M241.8 84.6h0M242.5 59.7h0M243.1 67.8h0M243.8 70.0h0M244.5 71.0h0M245.1 66.9h0M245.8 72.2h0M246.5 70.3h0M247.1 68.1h0M247.8 70.3h0M248.4 68.6h0M249.1 70.2h0M249.8 57.6h0M250.4 54.3h0M251.1 64.6h0M251.8 66.9h0M252.4 45.0h0M253.1 63.1h0M253.7 67.0h0M254.4 64.4h0M255.1 64.2h0M255.7 51.3h0M256.4 65.6h0M257.1 54.5h0M257.7 74.2h0M258.4 61.3h0M259.0 75.3h0M259.7 55.0h0M260.4 66.2h0M261.0 64.6h0M261.7 59.1h0M262.4 50.2h0M263.0 95.4h0M263.7 69.6h0M264.3 79.1h0M265.0 62.6h0M265.7 63.8h0M266.3 67.0h0M267.0 77.7h0M267.7 67.2h0M268.3 71.3h0M269.0 56.2h0M269.7 44.4h0M270.3 73.6h0M271.0 63.4h0M271.6 64.4h0M272.3 87.2h0M273.0 73.1h0M273.6 62.3h0M274.3 67.6h0M275.0 52.7h0M275.6 59.8h0M276.3 62.9h0M276.9 58.5h0M277.6 62.2h0M278.3 79.9h0M278.9 52.9h0M279.6 56.6h0M280.3 61.1h0M280.9 47.5h0M281.6 44.3h0M282.2 73.7h0M282.9 69.6h0M283.6 39.5h0M284.2 50.2h0M284.9 68.8h0M285.6 74.5h0M286.2 67.3h0M286.9 62.1h0M287.5 69.2h0M288.2 58.4h0M288.9 75.5h0M289.5 74.5h0M290.2 52.1h0M290.9 67.3h0M291.5 58.5h0M292.2 49.4h0M292.9 46.8h0M293.5 59.9h0M294.2 57.2h0M294.8 63.0h0M295.5 45.4h0M296.2 48.3h0M296.8 64.6h0M297.5 56.9h0M298.2 51.9h0M298.8 50.1h0M299.5 31.4h0M300.1 47.0h0M300.8 63.8h0M301.5 57.5h0M302.1 73.9h0M302.8 52.6h0M303.5 53.8h0M304.1 37.0h0M304.8 54.4h0M305.4 84.9h0M306.1 64.9h0M306.8 82.0h0M307.4 73.0h0M308.1 67.4h0M308.8 60.2h0M309.4 50.1h0M310.1 56.0h0M310.8 67.4h0M311.4 43.4h0M312.1 62.3h0M312.7 61.6h0M313.4 74.1h0M314.1 74.3h0M314.7 44.8h0M315.4 77.3h0M316.1 54.5h0M316.7 43.5h0M317.4 56.5h0M318.0 50.2h0M318.7 69.8h0M319.4 44.0h0M320.0 37.3h0M320.7 50.4h0M321.4 66.0h0M322.0 68.4h0M322.7 38.7h0M323.3 74.9h0M324.0 50.6h0M324.7 34.3h0M325.3 57.1h0M326.0 55.4h0M326.7 79.5h0M327.3 46.1h0M328.0 63.7h0M328.6 38.2h0" stroke="#00ff00" stroke-width="2.3" stroke-linecap="round" opacity="0.68"/>
<path d="M64.8 127.7 L64.9 127.8 L65.0 128.0 L65.1 128.2 L65.1 128.3 L65.2 128.5 L65.3 128.7 L65.4 128.8 L65.5 129.0 L65.6 129.1 L65.7 129.3 L65.7 129.4 L65.8 129.6 L65.9 129.7 L66.0 129.8 L66.1 130.0 L66.2 130.1 L66.3 130.2 L66.3 130.4 L66.4 130.5 L66.5 130.7 L66.6 130.8 L66.7 130.9 L66.8 131.0 L66.9 131.2 L66.9 131.3 L67.0 131.4 L67.1 131.5 L67.2 131.7 L67.3 131.8 L67.4 131.9 L67.5 132.0 L67.5 132.2 L67.6 132.3 L67.7 132.4 L67.8 132.5 L67.9 132.6 L68.0 132.7 L68.1 132.9 L68.1 133.0 L68.2 133.1 L68.3 133.2 L68.4 133.3 L68.5 133.4 L68.6 133.5 L68.7 133.7 L68.7 133.8 L68.8 133.9 L68.9 134.0 L69.0 134.1 L69.1 134.2 L69.2 134.3 L69.3 134.4 L69.3 134.5 L69.4 134.6 L69.5 134.8 L69.6 134.9 L69.7 135.0 L69.8 135.1 L69.9 135.2 L70.3 135.7 L70.7 136.2 L71.1 136.7 L71.5 137.2 L71.9 137.6 L72.3 138.1 L72.7 138.6 L73.1 139.0 L73.5 139.5 L73.9 139.9 L74.3 140.3 L74.7 140.8 L75.1 141.2 L75.5 141.6 L75.9 142.1 L76.3 142.5 L76.7 143.0 L77.1 143.4 L77.6 143.9 L78.0 144.3 L78.4 144.7 L78.8 145.1 L79.2 145.4 L79.6 145.7 L80.0 146.0 L80.4 146.2 L80.8 146.5 L81.2 146.7 L81.6 146.9 L82.0 147.1 L82.4 147.3 L82.8 147.5 L83.2 147.7 L83.6 147.8 L84.0 148.0 L84.4 148.1 L84.8 148.2 L85.2 148.3 L85.7 148.4 L86.1 148.4 L86.5 148.4 L86.9 148.4 L87.3 148.4 L87.7 148.4 L88.1 148.3 L88.5 148.3 L88.9 148.2 L89.3 148.1 L89.7 148.1 L90.1 148.0 L90.5 147.9 L90.9 147.8 L91.3 147.7 L91.7 147.7 L92.1 147.6 L92.5 147.5 L92.9 147.3 L93.3 147.2 L93.8 147.1 L94.2 146.9 L94.6 146.7 L95.0 146.6 L95.4 146.4 L95.8 146.2 L96.2 146.0 L96.6 145.8 L97.0 145.6 L97.4 145.3 L97.8 145.0 L98.2 144.7 L98.6 144.4 L99.0 144.0 L99.4 143.7 L99.8 143.4 L100.2 143.0 L100.6 142.7 L101.0 142.4 L101.4 142.0 L101.9 141.7 L102.3 141.4 L102.7 141.2 L103.1 140.9 L103.5 140.6 L103.9 140.3 L104.3 140.0 L104.7 139.7 L105.1 139.4 L105.5 139.2 L105.9 138.9 L106.3 138.6 L106.7 138.3 L107.1 138.0 L107.5 137.7 L107.9 137.4 L108.3 137.2 L108.7 136.9 L109.1 136.6 L109.5 136.3 L110.0 136.0" stroke="#00ff00" stroke-width="2.2" stroke-linejoin="round" stroke-linecap="round"/>
<path d="M57.5 29.5 L57.6 35.3 L57.7 40.9 L57.8 46.2 L57.9 51.2 L58.0 55.9 L58.2 60.3 L58.3 64.4 L58.4 68.3 L58.5 72.0 L58.6 75.4 L58.7 78.6 L58.8 81.5 L58.9 84.1 L59.0 86.4 L59.1 88.5 L59.2 90.4 L59.3 92.3 L59.4 94.0 L59.5 95.7 L59.6 97.3 L59.7 98.9 L59.8 100.4 L59.9 101.8 L60.0 103.2 L60.1 104.5 L60.2 105.8 L60.3 107.0 L60.4 108.1 L60.5 109.3 L60.6 110.3 L60.7 111.3 L60.8 112.2 L61.0 113.1 L61.1 113.9 L61.2 114.6 L61.3 115.3 L61.4 116.0 L61.5 116.6 L61.6 117.2 L61.7 117.8 L61.8 118.4 L61.9 118.9 L62.0 119.5 L62.1 120.0 L62.2 120.4 L62.3 120.9 L62.4 121.4 L62.5 121.8 L62.6 122.2 L62.7 122.6 L62.8 123.0 L62.9 123.3 L63.0 123.6 L63.1 123.9 L63.2 124.2 L63.3 124.4 L63.4 124.7 L63.5 124.9 L63.6 125.1 L63.7 125.4 L63.9 125.6 L64.0 125.9 L64.1 126.1 L64.2 126.3 L64.3 126.5 L64.4 126.8 L64.5 127.0 L64.6 127.2 L64.7 127.4 L64.8 127.6 L64.9 127.8 L65.0 128.0 L65.1 128.2 L65.2 128.4 L65.3 128.6 L65.4 128.8 L65.5 129.0 L65.6 129.2 L65.7 129.4 L65.8 129.5 L65.9 129.7 L66.0 129.9 L66.1 130.1 L66.2 130.2 L66.3 130.4 L66.4 130.5 L66.5 130.7 L66.6 130.9 L66.8 131.0 L66.9 131.2 L67.0 131.3 L67.1 131.5 L67.2 131.6 L67.3 131.8 L67.4 131.9 L67.5 132.1 L67.6 132.2 L67.7 132.4 L67.8 132.5 L67.9 132.6 L68.0 132.8 L68.1 132.9 L68.2 133.1 L68.3 133.2 L68.4 133.3 L68.5 133.5 L68.6 133.6 L68.7 133.7 L68.8 133.9 L68.9 134.0 L69.0 134.1 L69.1 134.3 L69.2 134.4 L69.3 134.5 L69.4 134.7 L69.5 134.8 L69.7 134.9 L69.8 135.1 L69.9 135.2 L70.7 136.3 L71.6 137.3 L72.5 138.3 L73.3 139.3 L74.2 140.2 L75.1 141.1 L75.9 142.1 L76.8 143.1 L77.7 144.0 L78.6 144.9 L79.4 145.6 L80.3 146.2 L81.2 146.7 L82.0 147.1 L82.9 147.5 L83.8 147.9 L84.6 148.2 L85.5 148.4 L86.4 148.4 L87.2 148.4 L88.1 148.3 L89.0 148.2 L89.9 148.0 L90.7 147.9 L91.6 147.7 L92.5 147.5 L93.3 147.2 L94.2 146.9 L95.1 146.5 L95.9 146.1 L96.8 145.7 L97.7 145.1 L98.6 144.4 L99.4 143.7 L100.3 143.0 L101.2 142.3 L102.0 141.6 L102.9 141.0 L103.8 140.4 L104.6 139.8 L105.5 139.1 L106.4 138.5 L107.2 137.9 L108.1 137.3 L109.0 136.7 L109.9 136.1 L110.7 135.4 L111.6 134.7 L112.5 134.1 L113.3 133.4 L114.2 132.7 L115.1 131.9 L115.9 131.2 L116.8 130.4 L117.7 129.6 L118.5 128.8 L119.4 128.0 L120.3 127.2 L121.2 126.5 L122.0 125.7 L122.9 125.0 L123.8 124.3 L124.6 123.6 L125.5 122.9 L126.4 122.2 L127.2 121.6 L128.1 120.9 L129.0 120.3 L129.8 119.7 L130.7 119.1 L131.6 118.5 L132.5 117.9 L133.3 117.4 L134.2 116.9 L135.1 116.4 L135.9 115.9 L136.8 115.4 L137.7 114.9 L138.5 114.3 L139.4 113.8 L140.3 113.3 L141.2 112.8 L142.0 112.2 L142.9 111.7 L143.8 111.1 L144.6 110.5 L145.5 109.9 L146.4 109.3 L147.2 108.7 L148.1 108.1 L149.0 107.4 L149.8 106.8 L150.7 106.2 L151.6 105.5 L152.5 104.9 L153.3 104.3 L154.2 103.8 L155.1 103.2 L155.9 102.6 L156.8 102.1 L157.7 101.5 L158.5 100.9 L159.4 100.3 L160.3 99.8 L161.1 99.2 L162.0 98.7 L162.9 98.1 L163.8 97.6 L164.6 97.0 L165.5 96.5 L166.4 96.0 L167.2 95.4 L168.1 94.9 L169.0 94.4 L169.8 93.9 L170.7 93.5 L171.6 93.0 L172.4 92.6 L173.3 92.1 L174.2 91.7 L175.1 91.3 L175.9 90.9 L176.8 90.5 L177.7 90.1 L178.5 89.7 L179.4 89.4 L180.3 89.0 L181.1 88.7 L182.0 88.3 L182.9 88.0 L183.8 87.7 L184.6 87.3 L185.5 87.0 L186.4 86.7 L187.2 86.4 L188.1 86.1 L189.0 85.8 L189.8 85.5 L190.7 85.2 L191.6 84.9 L192.4 84.6 L193.3 84.3 L194.2 84.0 L195.1 83.7 L195.9 83.4 L196.8 83.1 L197.7 82.8 L198.5 82.5 L199.4 82.2 L200.3 81.9 L201.1 81.6 L202.0 81.3 L202.9 81.0 L203.7 80.7 L204.6 80.4 L205.5 80.1 L206.4 79.8 L207.2 79.6 L208.1 79.3 L209.0 79.0 L209.8 78.7 L210.7 78.4 L211.6 78.1 L212.4 77.9 L213.3 77.6 L214.2 77.3 L215.1 77.0 L215.9 76.7 L216.8 76.5 L217.7 76.2 L218.5 75.9 L219.4 75.7 L220.3 75.4 L221.1 75.2 L222.0 74.9 L222.9 74.6 L223.7 74.4 L224.6 74.1 L225.5 73.9 L226.4 73.6 L227.2 73.4 L228.1 73.1 L229.0 72.9 L229.8 72.6 L230.7 72.4 L231.6 72.1 L232.4 71.9 L233.3 71.6 L234.2 71.4 L235.0 71.1 L235.9 70.9 L236.8 70.7 L237.7 70.4 L238.5 70.2 L239.4 69.9 L240.3 69.7 L241.1 69.5 L242.0 69.2 L242.9 69.0 L243.7 68.7 L244.6 68.5 L245.5 68.3 L246.3 68.0 L247.2 67.8 L248.1 67.6 L249.0 67.3 L249.8 67.1 L250.7 66.9 L251.6 66.7 L252.4 66.4 L253.3 66.2 L254.2 66.0 L255.0 65.8 L255.9 65.5 L256.8 65.3 L257.7 65.1 L258.5 64.9 L259.4 64.7 L260.3 64.5 L261.1 64.3 L262.0 64.1 L262.9 63.8 L263.7 63.6 L264.6 63.4 L265.5 63.2 L266.3 63.0 L267.2 62.8 L268.1 62.6 L269.0 62.5 L269.8 62.3 L270.7 62.1 L271.6 61.9 L272.4 61.7 L273.3 61.5 L274.2 61.3 L275.0 61.2 L275.9 61.0 L276.8 60.8 L277.6 60.6 L278.5 60.5 L279.4 60.3 L280.3 60.1 L281.1 59.9 L282.0 59.8 L282.9 59.6 L283.7 59.4 L284.6 59.3 L285.5 59.1 L286.3 58.9 L287.2 58.8 L288.1 58.6 L288.9 58.5 L289.8 58.3 L290.7 58.1 L291.6 58.0 L292.4 57.8 L293.3 57.7 L294.2 57.5 L295.0 57.4 L295.9 57.2 L296.8 57.1 L297.6 56.9 L298.5 56.8 L299.4 56.6 L300.3 56.5 L301.1 56.3 L302.0 56.2 L302.9 56.0 L303.7 55.9 L304.6 55.7 L305.5 55.6 L306.3 55.5 L307.2 55.3 L308.1 55.2 L308.9 55.0 L309.8 54.9 L310.7 54.8 L311.6 54.6 L312.4 54.5 L313.3 54.4 L314.2 54.2 L315.0 54.1 L315.9 54.0 L316.8 53.9 L317.6 53.7 L318.5 53.6 L319.4 53.5 L320.2 53.4 L321.1 53.2 L322.0 53.1 L322.9 53.0 L323.7 52.9 L324.6 52.7 L325.5 52.6 L326.3 52.5 L327.2 52.4 L328.1 52.3 L328.9 52.2 L329.8 52.1" stroke="#00ff00" stroke-width="0.9" stroke-linejoin="round"/>
<path d="M57.5 52.7h0M58.2 100.7h0M58.9 133.1h0M59.5 155.7h0M60.2 169.4h0M60.8 179.0h0M61.5 184.9h0M62.2 188.8h0M62.8 191.2h0M63.5 192.4h0M64.2 192.9h0M64.8 193.2h0M65.5 193.4h0M66.1 193.8h0M66.8 193.6h0M67.5 193.6h0M68.1 193.3h0M68.8 193.1h0M69.5 193.0h0M70.1 192.1h0M70.8 192.1h0M71.5 191.5h0M72.1 190.9h0M72.8 189.9h0M73.4 189.3h0M74.1 188.6h0M74.8 187.9h0M75.4 187.0h0M76.1 186.4h0M76.8 185.5h0M77.4 184.4h0M78.1 183.6h0M78.7 182.7h0M79.4 182.0h0M80.1 180.8h0M80.7 179.5h0M81.4 178.4h0M82.1 176.9h0M82.7 176.0h0M83.4 174.5h0M84.0 173.3h0M84.7 171.3h0M85.4 170.4h0M86.0 168.9h0M86.7 167.9h0M87.4 166.8h0M88.0 165.6h0M88.7 164.3h0M89.3 163.2h0M90.0 161.8h0M90.7 160.7h0M91.3 159.9h0M92.0 159.0h0M92.7 157.8h0M93.3 156.4h0M94.0 155.2h0M94.7 154.3h0M95.3 153.0h0M96.0 152.0h0M96.6 150.9h0M97.3 149.5h0M98.0 148.4h0M98.6 146.9h0M99.3 145.8h0M100.0 144.7h0M100.6 143.6h0M101.3 142.0h0M101.9 141.7h0M102.6 140.7h0M103.3 139.4h0M103.9 138.6h0M104.6 137.5h0M105.3 136.1h0M105.9 135.0h0M106.6 134.8h0M107.2 133.4h0M107.9 132.4h0M108.6 131.5h0M109.2 129.4h0M109.9 129.8h0M110.6 127.6h0M111.2 128.0h0M111.9 126.9h0M112.6 125.9h0M113.2 125.0h0M113.9 124.2h0M114.5 123.0h0M115.2 122.6h0M115.9 121.0h0M116.5 121.1h0M117.2 121.1h0M117.9 120.2h0M118.5 119.8h0M119.2 117.8h0M119.8 118.2h0M120.5 117.4h0M121.2 116.1h0M121.8 115.1h0M122.5 115.1h0M123.2 112.8h0M123.8 113.7h0M124.5 113.2h0M125.1 109.9h0M125.8 111.8h0M126.5 111.9h0M127.1 108.0h0M127.8 110.6h0M128.5 109.5h0M129.1 108.0h0M129.8 108.7h0M130.4 107.6h0M131.1 106.4h0M131.8 104.9h0M132.4 105.9h0M133.1 104.8h0M133.8 103.7h0M134.4 103.3h0M135.1 104.0h0M135.8 101.5h0M136.4 101.3h0M137.1 97.8h0M137.7 98.8h0M138.4 98.2h0M139.1 98.5h0M139.7 97.7h0M140.4 98.1h0M141.1 97.0h0M141.7 96.1h0M142.4 96.1h0M143.0 95.0h0M143.7 95.5h0M144.4 93.1h0M145.0 92.2h0M145.7 93.2h0M146.4 92.3h0M147.0 92.2h0M147.7 90.8h0M148.3 90.6h0M149.0 90.6h0M149.7 90.6h0M150.3 89.7h0M151.0 90.8h0M151.7 88.1h0M152.3 89.6h0M153.0 87.5h0M153.6 87.7h0M154.3 85.9h0M155.0 87.1h0M155.6 85.2h0M156.3 87.0h0M157.0 83.6h0M157.6 85.7h0M158.3 84.9h0M159.0 84.8h0M159.6 83.1h0M160.3 87.2h0M160.9 83.5h0M161.6 85.7h0M162.3 82.1h0M162.9 84.3h0M163.6 83.2h0M164.3 83.4h0M164.9 79.0h0M165.6 82.5h0M166.2 81.0h0M166.9 81.2h0M167.6 83.5h0M168.2 80.7h0M168.9 78.6h0M169.6 79.8h0M170.2 77.4h0M170.9 79.5h0M171.5 78.5h0M172.2 78.6h0M172.9 77.3h0M173.5 73.9h0M174.2 76.6h0M174.9 76.7h0M175.5 78.0h0M176.2 77.3h0M176.8 74.7h0M177.5 78.3h0M178.2 77.6h0M178.8 75.5h0M179.5 75.6h0M180.2 72.6h0M180.8 80.0h0M181.5 73.9h0M182.2 72.3h0M182.8 76.4h0M183.5 74.2h0M184.1 72.1h0M184.8 70.9h0M185.5 75.0h0M186.1 74.5h0M186.8 70.9h0M187.5 67.9h0M188.1 72.1h0M188.8 77.4h0M189.4 69.2h0M190.1 71.2h0M190.8 69.1h0M191.4 70.5h0M192.1 71.3h0M192.8 71.3h0M193.4 67.5h0M194.1 65.1h0M194.7 75.9h0M195.4 70.5h0M196.1 65.9h0M196.7 69.8h0M197.4 70.4h0M198.1 68.1h0M198.7 62.8h0M199.4 68.0h0M200.0 69.1h0M200.7 68.3h0M201.4 67.8h0M202.0 57.5h0M202.7 68.1h0M203.4 67.5h0M204.0 66.7h0M204.7 55.0h0M205.4 65.0h0M206.0 65.8h0M206.7 64.2h0M207.3 63.4h0M208.0 60.3h0M208.7 63.6h0M209.3 56.6h0M210.0 58.3h0M210.7 64.2h0M211.3 65.8h0M212.0 59.6h0M212.6 61.1h0M213.3 63.6h0M214.0 66.8h0M214.6 67.6h0M215.3 61.0h0M216.0 58.6h0M216.6 60.3h0M217.3 69.2h0M217.9 59.2h0M218.6 64.8h0M219.3 59.5h0M219.9 59.1h0M220.6 66.1h0M221.3 62.9h0M221.9 67.3h0M222.6 66.5h0M223.3 72.1h0M223.9 47.4h0M224.6 60.1h0M225.2 57.1h0M225.9 58.7h0M226.6 62.0h0M227.2 58.4h0M227.9 52.6h0M228.6 54.9h0M229.2 56.9h0M229.9 66.3h0M230.5 55.4h0M231.2 44.1h0M231.9 60.9h0M232.5 54.9h0M233.2 44.6h0M233.9 59.6h0M234.5 59.4h0M235.2 67.1h0M235.8 55.2h0M236.5 59.4h0M237.2 76.1h0M237.8 54.7h0M238.5 54.4h0M239.2 63.6h0M239.8 58.5h0M240.5 61.1h0M241.1 49.3h0M241.8 70.9h0M242.5 40.6h0M243.1 46.5h0M243.8 55.7h0M244.5 51.1h0M245.1 36.6h0M245.8 67.8h0M246.5 30.4h0M247.1 53.1h0M247.8 66.2h0M248.4 53.1h0M249.1 48.0h0M249.8 48.8h0M250.4 72.2h0M251.1 59.9h0M251.8 72.6h0M252.4 42.0h0M253.1 47.1h0M253.7 45.8h0M254.4 64.1h0M255.1 60.6h0M255.7 52.7h0M256.4 52.3h0M257.1 58.5h0M257.7 52.3h0M258.4 49.2h0M259.0 51.6h0M259.7 65.7h0M260.4 79.1h0M261.0 54.2h0M261.7 50.4h0M262.4 55.7h0M263.0 57.7h0M263.7 56.6h0M264.3 42.7h0M265.0 52.6h0M265.7 50.1h0M266.3 64.6h0M267.0 59.9h0M267.7 49.2h0M268.3 65.0h0M269.0 59.8h0M269.7 53.3h0M270.3 42.7h0M271.0 48.2h0M271.6 40.6h0M272.3 51.6h0M273.0 54.9h0M273.6 70.1h0M274.3 58.5h0M275.0 40.0h0M275.6 25.7h0M276.3 44.7h0M276.9 39.7h0M277.6 40.3h0M278.3 18.7h0M278.9 47.8h0M279.6 44.5h0M280.3 42.6h0M280.9 45.6h0M281.6 46.9h0M282.2 60.5h0M282.9 52.9h0M283.6 63.0h0M284.2 33.6h0M284.9 28.5h0M285.6 50.2h0M286.2 11.9h0M286.9 22.1h0M287.5 65.7h0M288.2 48.4h0M288.9 38.0h0M289.5 50.4h0M290.2 43.1h0M290.9 46.2h0M291.5 50.6h0M292.2 14.1h0M292.9 41.7h0M293.5 51.6h0M294.2 41.2h0M294.8 44.2h0M295.5 43.8h0M296.2 34.7h0M296.8 44.7h0M297.5 58.2h0M298.2 38.2h0M298.8 49.1h0M299.5 48.8h0M300.1 58.4h0M300.8 51.0h0M301.5 58.0h0M302.1 46.5h0M302.8 69.6h0M303.5 45.2h0M304.1 43.9h0M304.8 64.1h0M305.4 11.9h0M306.1 52.6h0M306.8 38.1h0M307.4 87.0h0M308.1 48.2h0M308.8 59.0h0M309.4 52.3h0M310.1 31.1h0M310.8 55.5h0M311.4 43.8h0M312.1 51.9h0M312.7 12.4h0M313.4 37.0h0M314.1 35.1h0M314.7 66.7h0M315.4 53.6h0M316.1 26.1h0M316.7 45.9h0M317.4 48.5h0M318.0 38.4h0M318.7 65.2h0M319.4 30.8h0M320.0 43.7h0M320.7 35.6h0M321.4 55.1h0M322.0 39.2h0M322.7 55.6h0M323.3 27.1h0M324.0 23.9h0M324.7 27.6h0M325.3 34.3h0M326.0 32.2h0M326.7 83.4h0M327.3 28.5h0M328.0 47.7h0M328.6 41.2h0" stroke="#0000ff" stroke-width="2.3" stroke-linecap="round" opacity="0.68"/>
<path d="M61.4 184.3 L61.6 185.3 L61.7 186.3 L61.8 187.1 L62.0 187.9 L62.1 188.6 L62.3 189.2 L62.4 189.8 L62.6 190.3 L62.7 190.8 L62.9 191.1 L63.0 191.5 L63.1 191.7 L63.3 192.0 L63.4 192.2 L63.6 192.3 L63.7 192.4 L63.9 192.6 L64.0 192.7 L64.1 192.8 L64.3 192.9 L64.4 193.0 L64.6 193.1 L64.7 193.2 L64.9 193.3 L65.0 193.4 L65.1 193.5 L65.3 193.6 L65.4 193.6 L65.6 193.7 L65.7 193.7 L65.9 193.7 L66.0 193.7 L66.1 193.7 L66.3 193.7 L66.4 193.7 L66.6 193.7 L66.7 193.7 L66.9 193.7 L67.0 193.7 L67.1 193.6 L67.3 193.6 L67.4 193.6 L67.6 193.5 L67.7 193.5 L67.9 193.5 L68.0 193.4 L68.1 193.4 L68.3 193.3 L68.4 193.3 L68.6 193.2 L68.7 193.2 L68.9 193.1 L69.0 193.1 L69.1 193.0 L69.3 193.0 L69.4 192.9 L69.6 192.9 L69.7 192.8 L69.9 192.7 L70.3 192.4 L70.7 192.1 L71.1 191.8 L71.5 191.4 L71.9 191.0 L72.3 190.6 L72.7 190.1 L73.1 189.7 L73.5 189.2 L73.9 188.8 L74.3 188.3 L74.7 187.9 L75.1 187.4 L75.5 187.0 L75.9 186.5 L76.3 186.0 L76.7 185.5 L77.1 184.9 L77.6 184.4 L78.0 183.8 L78.4 183.3 L78.8 182.7 L79.2 182.1 L79.6 181.5 L80.0 180.8 L80.4 180.2 L80.8 179.5 L81.2 178.8 L81.6 178.0 L82.0 177.3 L82.4 176.5 L82.8 175.7 L83.2 174.9 L83.6 174.1 L84.0 173.2 L84.4 172.4 L84.8 171.5 L85.2 170.7 L85.7 169.9 L86.1 169.0 L86.5 168.2 L86.9 167.5 L87.3 166.7 L87.7 166.0 L88.1 165.3 L88.5 164.6 L88.9 163.9 L89.3 163.2 L89.7 162.5 L90.1 161.9 L90.5 161.2 L90.9 160.6 L91.3 159.9 L91.7 159.3 L92.1 158.6 L92.5 158.0 L92.9 157.3 L93.3 156.6 L93.8 155.9 L94.2 155.2 L94.6 154.5 L95.0 153.8 L95.4 153.0 L95.8 152.3 L96.2 151.5 L96.6 150.8 L97.0 150.0 L97.4 149.3 L97.8 148.5 L98.2 147.8 L98.6 147.0 L99.0 146.3 L99.4 145.6 L99.8 144.9 L100.2 144.2 L100.6 143.5 L101.0 142.9 L101.4 142.2 L101.9 141.5 L102.3 140.9 L102.7 140.3 L103.1 139.6 L103.5 139.0 L103.9 138.4 L104.3 137.8 L104.7 137.2 L105.1 136.6 L105.5 136.0 L105.9 135.4 L106.3 134.8 L106.7 134.2 L107.1 133.6 L107.5 133.0 L107.9 132.4 L108.3 131.8 L108.7 131.3 L109.1 130.7 L109.5 130.1 L110.0 129.5" stroke="#0000ff" stroke-width="2.2" stroke-linejoin="round" stroke-linecap="round"/>
<path d="M57.5 52.7 L57.6 61.2 L57.7 69.4 L57.8 77.3 L57.9 84.7 L58.0 91.7 L58.2 98.2 L58.3 104.2 L58.4 109.9 L58.5 115.3 L58.6 120.4 L58.7 125.2 L58.8 129.7 L58.9 133.9 L59.0 138.0 L59.1 141.8 L59.2 145.5 L59.3 148.9 L59.4 152.1 L59.5 155.0 L59.6 157.6 L59.7 160.1 L59.8 162.4 L59.9 164.5 L60.0 166.5 L60.1 168.4 L60.2 170.2 L60.3 171.9 L60.4 173.5 L60.5 175.1 L60.6 176.5 L60.7 177.8 L60.8 179.1 L61.0 180.2 L61.1 181.2 L61.2 182.1 L61.3 183.0 L61.4 183.9 L61.5 184.6 L61.6 185.4 L61.7 186.1 L61.8 186.7 L61.9 187.3 L62.0 187.9 L62.1 188.4 L62.2 188.9 L62.3 189.3 L62.4 189.7 L62.5 190.1 L62.6 190.5 L62.7 190.8 L62.8 191.1 L62.9 191.3 L63.0 191.5 L63.1 191.7 L63.2 191.9 L63.3 192.0 L63.4 192.2 L63.5 192.3 L63.6 192.4 L63.7 192.5 L63.9 192.6 L64.0 192.7 L64.1 192.7 L64.2 192.8 L64.3 192.9 L64.4 193.0 L64.5 193.1 L64.6 193.2 L64.7 193.2 L64.8 193.3 L64.9 193.4 L65.0 193.4 L65.1 193.5 L65.2 193.5 L65.3 193.6 L65.4 193.6 L65.5 193.6 L65.6 193.7 L65.7 193.7 L65.8 193.7 L65.9 193.7 L66.0 193.7 L66.1 193.7 L66.2 193.7 L66.3 193.7 L66.4 193.7 L66.5 193.7 L66.6 193.7 L66.8 193.7 L66.9 193.7 L67.0 193.7 L67.1 193.6 L67.2 193.6 L67.3 193.6 L67.4 193.6 L67.5 193.6 L67.6 193.5 L67.7 193.5 L67.8 193.5 L67.9 193.4 L68.0 193.4 L68.1 193.4 L68.2 193.4 L68.3 193.3 L68.4 193.3 L68.5 193.3 L68.6 193.2 L68.7 193.2 L68.8 193.2 L68.9 193.1 L69.0 193.1 L69.1 193.0 L69.2 193.0 L69.3 193.0 L69.4 192.9 L69.5 192.9 L69.7 192.8 L69.8 192.8 L69.9 192.7 L70.7 192.1 L71.6 191.3 L72.5 190.4 L73.3 189.4 L74.2 188.4 L75.1 187.5 L75.9 186.5 L76.8 185.4 L77.7 184.2 L78.6 183.0 L79.4 181.7 L80.3 180.3 L81.2 178.8 L82.0 177.2 L82.9 175.5 L83.8 173.8 L84.6 171.9 L85.5 170.1 L86.4 168.4 L87.2 166.7 L88.1 165.2 L89.0 163.7 L89.9 162.3 L90.7 160.9 L91.6 159.5 L92.5 158.1 L93.3 156.6 L94.2 155.1 L95.1 153.6 L95.9 152.0 L96.8 150.4 L97.7 148.7 L98.6 147.2 L99.4 145.6 L100.3 144.1 L101.2 142.7 L102.0 141.3 L102.9 139.9 L103.8 138.6 L104.6 137.2 L105.5 135.9 L106.4 134.7 L107.2 133.4 L108.1 132.2 L109.0 130.9 L109.9 129.7 L110.7 128.4 L111.6 127.2 L112.5 126.1 L113.3 124.9 L114.2 123.8 L115.1 122.7 L115.9 121.7 L116.8 120.7 L117.7 119.8 L118.5 118.9 L119.4 118.0 L120.3 117.1 L121.2 116.3 L122.0 115.4 L122.9 114.6 L123.8 113.8 L124.6 113.0 L125.5 112.2 L126.4 111.4 L127.2 110.6 L128.1 109.8 L129.0 108.9 L129.8 108.1 L130.7 107.2 L131.6 106.3 L132.5 105.4 L133.3 104.5 L134.2 103.6 L135.1 102.7 L135.9 101.8 L136.8 100.9 L137.7 100.1 L138.5 99.2 L139.4 98.4 L140.3 97.5 L141.2 96.7 L142.0 95.9 L142.9 95.2 L143.8 94.5 L144.6 93.8 L145.5 93.2 L146.4 92.5 L147.2 91.9 L148.1 91.3 L149.0 90.7 L149.8 90.2 L150.7 89.6 L151.6 89.1 L152.5 88.5 L153.3 88.0 L154.2 87.5 L155.1 87.0 L155.9 86.5 L156.8 86.0 L157.7 85.5 L158.5 85.1 L159.4 84.6 L160.3 84.1 L161.1 83.7 L162.0 83.2 L162.9 82.7 L163.8 82.3 L164.6 81.9 L165.5 81.4 L166.4 81.0 L167.2 80.6 L168.1 80.2 L169.0 79.7 L169.8 79.3 L170.7 78.9 L171.6 78.5 L172.4 78.1 L173.3 77.7 L174.2 77.4 L175.1 77.0 L175.9 76.6 L176.8 76.2 L177.7 75.9 L178.5 75.5 L179.4 75.1 L180.3 74.8 L181.1 74.4 L182.0 74.1 L182.9 73.7 L183.8 73.4 L184.6 73.0 L185.5 72.7 L186.4 72.3 L187.2 72.0 L188.1 71.7 L189.0 71.3 L189.8 71.0 L190.7 70.7 L191.6 70.4 L192.4 70.1 L193.3 69.8 L194.2 69.5 L195.1 69.1 L195.9 68.8 L196.8 68.5 L197.7 68.2 L198.5 68.0 L199.4 67.7 L200.3 67.4 L201.1 67.1 L202.0 66.8 L202.9 66.5 L203.7 66.2 L204.6 66.0 L205.5 65.7 L206.4 65.4 L207.2 65.2 L208.1 64.9 L209.0 64.6 L209.8 64.4 L210.7 64.1 L211.6 63.8 L212.4 63.6 L213.3 63.3 L214.2 63.1 L215.1 62.8 L215.9 62.6 L216.8 62.4 L217.7 62.1 L218.5 61.9 L219.4 61.6 L220.3 61.4 L221.1 61.2 L222.0 60.9 L222.9 60.7 L223.7 60.5 L224.6 60.3 L225.5 60.1 L226.4 59.8 L227.2 59.6 L228.1 59.4 L229.0 59.2 L229.8 59.0 L230.7 58.8 L231.6 58.6 L232.4 58.4 L233.3 58.2 L234.2 58.0 L235.0 57.8 L235.9 57.6 L236.8 57.4 L237.7 57.2 L238.5 57.1 L239.4 56.9 L240.3 56.7 L241.1 56.5 L242.0 56.3 L242.9 56.1 L243.7 56.0 L244.6 55.8 L245.5 55.6 L246.3 55.4 L247.2 55.2 L248.1 55.1 L249.0 54.9 L249.8 54.7 L250.7 54.6 L251.6 54.4 L252.4 54.2 L253.3 54.0 L254.2 53.9 L255.0 53.7 L255.9 53.5 L256.8 53.4 L257.7 53.2 L258.5 53.1 L259.4 52.9 L260.3 52.7 L261.1 52.6 L262.0 52.4 L262.9 52.3 L263.7 52.1 L264.6 52.0 L265.5 51.8 L266.3 51.6 L267.2 51.5 L268.1 51.3 L269.0 51.2 L269.8 51.0 L270.7 50.9 L271.6 50.8 L272.4 50.6 L273.3 50.5 L274.2 50.3 L275.0 50.2 L275.9 50.0 L276.8 49.9 L277.6 49.8 L278.5 49.6 L279.4 49.5 L280.3 49.3 L281.1 49.2 L282.0 49.1 L282.9 48.9 L283.7 48.8 L284.6 48.7 L285.5 48.5 L286.3 48.4 L287.2 48.3 L288.1 48.2 L288.9 48.0 L289.8 47.9 L290.7 47.8 L291.6 47.7 L292.4 47.5 L293.3 47.4 L294.2 47.3 L295.0 47.2 L295.9 47.0 L296.8 46.9 L297.6 46.8 L298.5 46.7 L299.4 46.5 L300.3 46.4 L301.1 46.3 L302.0 46.2 L302.9 46.1 L303.7 45.9 L304.6 45.8 L305.5 45.7 L306.3 45.6 L307.2 45.5 L308.1 45.4 L308.9 45.2 L309.8 45.1 L310.7 45.0 L311.6 44.9 L312.4 44.8 L313.3 44.7 L314.2 44.5 L315.0 44.4 L315.9 44.3 L316.8 44.2 L317.6 44.1 L318.5 44.0 L319.4 43.9 L320.2 43.8 L321.1 43.7 L322.0 43.6 L322.9 43.5 L323.7 43.4 L324.6 43.3 L325.5 43.2 L326.3 43.1 L327.2 43.0 L328.1 42.9 L328.9 42.9 L329.8 42.8" stroke="#0000ff" stroke-width="0.9" stroke-linejoin="round"/>
<path d="M72.1 245.3h0M72.8 241.5h0M73.4 237.8h0M74.1 234.4h0M74.8 230.7h0M75.4 227.3h0M76.1 224.3h0M76.8 220.8h0M77.4 217.6h0M78.1 214.9h0M78.7 212.2h0M79.4 208.9h0M80.1 206.3h0M80.7 203.8h0M81.4 201.2h0M82.1 199.0h0M82.7 196.4h0M83.4 194.0h0M84.0 191.4h0M84.7 189.3h0M85.4 186.9h0M86.0 184.3h0M86.7 181.6h0M87.4 179.3h0M88.0 176.2h0M88.7 174.3h0M89.3 171.8h0M90.0 169.2h0M90.7 167.2h0M91.3 165.4h0M92.0 163.8h0M92.7 162.2h0M93.3 160.7h0M94.0 159.4h0M94.7 158.1h0M95.3 156.4h0M96.0 154.8h0M96.6 153.2h0M97.3 152.6h0M98.0 150.3h0M98.6 148.5h0M99.3 146.5h0M100.0 144.5h0M100.6 143.3h0M101.3 141.4h0M101.9 140.5h0M102.6 139.0h0M103.3 136.8h0M103.9 136.3h0M104.6 134.6h0M105.3 133.0h0M105.9 132.1h0M106.6 132.0h0M107.2 129.6h0M107.9 128.8h0M108.6 127.6h0M109.2 126.1h0M109.9 125.0h0M110.6 124.3h0M111.2 122.9h0M111.9 122.0h0M112.6 121.1h0M113.2 119.9h0M113.9 119.0h0M114.5 118.3h0M115.2 116.3h0M115.9 116.2h0M116.5 116.1h0M117.2 114.9h0M117.9 112.7h0M118.5 112.5h0M119.2 111.4h0M119.8 110.6h0M120.5 109.6h0M121.2 108.7h0M121.8 107.8h0M122.5 107.8h0M123.2 105.6h0M123.8 106.1h0M124.5 103.5h0M125.1 104.9h0M125.8 104.3h0M126.5 101.9h0M127.1 101.9h0M127.8 100.5h0M128.5 100.2h0M129.1 101.0h0M129.8 96.9h0M130.4 101.1h0M131.1 98.4h0M131.8 98.1h0M132.4 96.0h0M133.1 94.0h0M133.8 96.6h0M134.4 93.9h0M135.1 95.1h0M135.8 96.4h0M136.4 94.8h0M137.1 90.7h0M137.7 91.8h0M138.4 92.1h0M139.1 92.1h0M139.7 91.3h0M140.4 88.2h0M141.1 88.3h0M141.7 86.6h0M142.4 87.8h0M143.0 91.5h0M143.7 86.4h0M144.4 87.4h0M145.0 87.0h0M145.7 83.9h0M146.4 85.9h0M147.0 83.5h0M147.7 84.8h0M148.3 85.5h0M149.0 83.1h0M149.7 84.4h0M150.3 78.9h0M151.0 81.8h0M151.7 82.0h0M152.3 81.2h0M153.0 80.8h0M153.6 81.1h0M154.3 79.7h0M155.0 80.3h0M155.6 78.6h0M156.3 79.3h0M157.0 78.7h0M157.6 78.1h0M158.3 79.5h0M159.0 78.5h0M159.6 78.3h0M160.3 75.6h0M160.9 77.9h0M161.6 75.4h0M162.3 73.0h0M162.9 74.8h0M163.6 78.1h0M164.3 74.5h0M164.9 73.3h0M165.6 74.5h0M166.2 68.8h0M166.9 72.0h0M167.6 69.1h0M168.2 73.1h0M168.9 72.8h0M169.6 72.2h0M170.2 68.5h0M170.9 70.1h0M171.5 70.5h0M172.2 71.0h0M172.9 70.3h0M173.5 69.7h0M174.2 71.7h0M174.9 70.5h0M175.5 70.3h0M176.2 69.3h0M176.8 69.1h0M177.5 67.9h0M178.2 69.4h0M178.8 66.2h0M179.5 67.0h0M180.2 69.3h0M180.8 65.3h0M181.5 68.6h0M182.2 64.2h0M182.8 67.2h0M183.5 67.4h0M184.1 63.3h0M184.8 66.5h0M185.5 65.8h0M186.1 60.7h0M186.8 64.5h0M187.5 63.7h0M188.1 61.2h0M188.8 67.7h0M189.4 61.6h0M190.1 63.0h0M190.8 62.4h0M191.4 66.7h0M192.1 60.7h0M192.8 56.3h0M193.4 64.1h0M194.1 58.8h0M194.7 61.7h0M195.4 55.5h0M196.1 62.0h0M196.7 58.6h0M197.4 59.8h0M198.1 59.5h0M198.7 59.2h0M199.4 55.4h0M200.0 65.8h0M200.7 62.1h0M201.4 64.8h0M202.0 60.4h0M202.7 54.0h0M203.4 58.8h0M204.0 64.8h0M204.7 57.8h0M205.4 57.3h0M206.0 60.8h0M206.7 59.8h0M207.3 58.4h0M208.0 63.6h0M208.7 54.8h0M209.3 57.7h0M210.0 57.0h0M210.7 63.5h0M211.3 62.3h0M212.0 61.2h0M212.6 52.5h0M213.3 57.1h0M214.0 56.6h0M214.6 51.9h0M215.3 45.1h0M216.0 54.9h0M216.6 53.6h0M217.3 45.5h0M217.9 57.5h0M218.6 47.0h0M219.3 50.7h0M219.9 57.8h0M220.6 57.6h0M221.3 55.3h0M221.9 61.7h0M222.6 62.5h0M223.3 58.1h0M223.9 51.7h0M224.6 56.5h0M225.2 55.5h0M225.9 56.4h0M226.6 65.5h0M227.2 41.7h0M227.9 63.9h0M228.6 56.6h0M229.2 48.7h0M229.9 65.8h0M230.5 50.7h0M231.2 41.8h0M231.9 57.0h0M232.5 51.9h0M233.2 58.0h0M233.9 47.6h0M234.5 51.5h0M235.2 50.1h0M235.8 45.3h0M236.5 49.6h0M237.2 37.9h0M237.8 45.0h0M238.5 64.2h0M239.2 50.0h0M239.8 48.6h0M240.5 67.0h0M241.1 43.5h0M241.8 49.9h0M242.5 48.6h0M243.1 55.8h0M243.8 49.4h0M244.5 46.5h0M245.1 52.1h0M245.8 49.5h0M246.5 76.4h0M247.1 41.0h0M247.8 63.8h0M248.4 63.6h0M249.1 55.6h0M249.8 60.1h0M250.4 41.7h0M251.1 55.0h0M251.8 44.9h0M252.4 61.6h0M253.1 33.5h0M253.7 43.6h0M254.4 21.1h0M255.1 62.3h0M255.7 43.4h0M256.4 61.4h0M257.1 43.7h0M257.7 37.8h0M258.4 59.2h0M259.0 64.0h0M259.7 64.5h0M260.4 69.5h0M261.0 58.0h0M261.7 54.3h0M262.4 57.9h0M263.0 46.1h0M263.7 38.2h0M264.3 56.9h0M265.0 50.9h0M265.7 46.4h0M266.3 49.9h0M267.0 57.3h0M267.7 39.6h0M268.3 32.1h0M269.0 40.4h0M269.7 49.1h0M270.3 12.9h0M271.0 16.7h0M271.6 52.1h0M272.3 47.3h0M273.0 25.3h0M273.6 58.5h0M274.3 38.3h0M275.0 44.1h0M275.6 56.8h0M276.3 46.8h0M276.9 71.6h0M277.6 49.3h0M278.3 61.8h0M278.9 -4.8h0M279.6 18.0h0M280.3 22.6h0M280.9 38.7h0M281.6 26.3h0M282.2 21.3h0M282.9 25.7h0M283.6 27.3h0M284.2 60.0h0M284.9 39.7h0M285.6 53.1h0M286.2 54.1h0M286.9 64.1h0M287.5 35.3h0M288.2 23.7h0M288.9 68.3h0M289.5 8.8h0M290.2 15.5h0M290.9 49.8h0M291.5 47.0h0M292.2 43.9h0M292.9 24.1h0M293.5 49.6h0M294.2 63.2h0M294.8 39.0h0M295.5 81.2h0M296.2 39.4h0M296.8 20.0h0M297.5 36.1h0M298.2 27.0h0M298.8 32.4h0M299.5 27.8h0M300.1 40.3h0M300.8 49.5h0M301.5 45.8h0M302.1 42.1h0M302.8 17.0h0M303.5 25.5h0M304.1 33.0h0M304.8 55.7h0M305.4 47.0h0M306.1 42.8h0M306.8 13.8h0M307.4 34.3h0M308.1 41.8h0M308.8 9.9h0M309.4 31.9h0M310.1 -2.8h0M310.8 41.4h0M311.4 38.3h0M312.1 6.9h0M312.7 43.4h0M313.4 6.6h0M314.1 -1.3h0M314.7 39.5h0M315.4 31.1h0M316.1 41.1h0M316.7 19.9h0M317.4 42.4h0M318.0 48.8h0M318.7 29.3h0M319.4 39.2h0M320.0 27.9h0M320.7 31.0h0M321.4 100.2h0M322.0 32.9h0M322.7 35.1h0M323.3 37.4h0M324.0 57.0h0M324.7 36.8h0M325.3 10.8h0M326.0 56.4h0M326.7 34.8h0M327.3 40.3h0M328.0 58.2h0M328.6 31.8h0" stroke="#ff00ff" stroke-width="2.3" stroke-linecap="round" opacity="0.68"/>
<path d="M72.0 246.0 L71.9 246.2 L71.9 246.4 L71.9 246.6 L71.8 246.8 L71.8 247.0 L71.8 247.2 L71.7 247.5 L71.7 247.7 L71.6 247.9 L71.6 248.1 L71.6 248.3 L71.5 248.5 L71.5 248.7 L71.5 248.9 L71.4 249.1 L71.4 249.3 L71.4 249.5 L71.3 249.7 L71.3 249.9 L71.3 250.1 L71.2 250.4 L71.2 250.6 L71.1 250.8 L71.1 251.0 L71.1 251.2 L71.0 251.4 L71.0 251.6 L71.0 251.8 L70.9 252.0 L70.9 252.2 L70.9 252.5 L70.8 252.7 L70.8 252.9 L70.8 253.1 L70.7 253.3 L70.7 253.5 L70.6 253.7 L70.6 253.9 L70.6 254.2 L70.5 254.4 L70.5 254.6 L70.5 254.8 L70.4 255.0 L70.4 255.2 L70.4 255.4 L70.3 255.7 L70.3 255.9 L70.3 256.1 L70.2 256.3 L70.2 256.5 L70.1 256.7 L70.1 257.0 L70.1 257.2 L70.0 257.4 L70.0 257.6 L70.0 257.8 L69.9 258.0 L69.9 258.3 L69.9 258.5 L70.3 256.0 L70.7 253.6 L71.1 251.2 L71.5 248.8 L71.9 246.5 L72.3 244.2 L72.7 241.9 L73.1 239.7 L73.5 237.5 L73.9 235.4 L74.3 233.2 L74.7 231.1 L75.1 229.1 L75.5 227.0 L75.9 225.0 L76.3 223.0 L76.7 221.1 L77.1 219.2 L77.6 217.3 L78.0 215.5 L78.4 213.7 L78.8 211.9 L79.2 210.1 L79.6 208.4 L80.0 206.7 L80.4 205.1 L80.8 203.5 L81.2 202.0 L81.6 200.5 L82.0 199.0 L82.4 197.6 L82.8 196.2 L83.2 194.7 L83.6 193.3 L84.0 191.8 L84.4 190.3 L84.8 188.8 L85.2 187.3 L85.7 185.7 L86.1 184.2 L86.5 182.6 L86.9 181.1 L87.3 179.6 L87.7 178.1 L88.1 176.6 L88.5 175.0 L88.9 173.5 L89.3 172.0 L89.7 170.5 L90.1 169.1 L90.5 167.8 L90.9 166.6 L91.3 165.5 L91.7 164.4 L92.1 163.5 L92.5 162.5 L92.9 161.6 L93.3 160.8 L93.8 159.9 L94.2 159.1 L94.6 158.2 L95.0 157.4 L95.4 156.5 L95.8 155.5 L96.2 154.5 L96.6 153.5 L97.0 152.5 L97.4 151.5 L97.8 150.5 L98.2 149.5 L98.6 148.5 L99.0 147.5 L99.4 146.4 L99.8 145.5 L100.2 144.5 L100.6 143.5 L101.0 142.6 L101.4 141.7 L101.9 140.7 L102.3 139.8 L102.7 138.9 L103.1 138.0 L103.5 137.1 L103.9 136.2 L104.3 135.4 L104.7 134.6 L105.1 133.8 L105.5 133.0 L105.9 132.2 L106.3 131.4 L106.7 130.7 L107.1 130.0 L107.5 129.3 L107.9 128.6 L108.3 127.9 L108.7 127.2 L109.1 126.5 L109.5 125.9 L110.0 125.2" stroke="#ff00ff" stroke-width="2.2" stroke-linejoin="round" stroke-linecap="round"/>
<path d="M72.0 246.0 L72.0 246.1 L71.9 246.2 L71.9 246.3 L71.9 246.4 L71.9 246.5 L71.9 246.6 L71.8 246.7 L71.8 246.8 L71.8 246.9 L71.8 247.0 L71.8 247.1 L71.8 247.2 L71.7 247.3 L71.7 247.4 L71.7 247.5 L71.7 247.6 L71.7 247.7 L71.7 247.8 L71.6 247.9 L71.6 248.1 L71.6 248.2 L71.6 248.3 L71.6 248.4 L71.5 248.5 L71.5 248.6 L71.5 248.7 L71.5 248.8 L71.5 248.9 L71.5 249.0 L71.4 249.1 L71.4 249.2 L71.4 249.3 L71.4 249.4 L71.4 249.5 L71.3 249.6 L71.3 249.7 L71.3 249.8 L71.3 249.9 L71.3 250.0 L71.3 250.1 L71.2 250.2 L71.2 250.3 L71.2 250.4 L71.2 250.5 L71.2 250.6 L71.2 250.7 L71.1 250.8 L71.1 250.9 L71.1 251.0 L71.1 251.1 L71.1 251.3 L71.0 251.4 L71.0 251.5 L71.0 251.6 L71.0 251.7 L71.0 251.8 L71.0 251.9 L70.9 252.0 L70.9 252.1 L70.9 252.2 L70.9 252.3 L70.9 252.4 L70.9 252.5 L70.8 252.6 L70.8 252.7 L70.8 252.8 L70.8 252.9 L70.8 253.0 L70.7 253.1 L70.7 253.2 L70.7 253.3 L70.7 253.5 L70.7 253.6 L70.7 253.7 L70.6 253.8 L70.6 253.9 L70.6 254.0 L70.6 254.1 L70.6 254.2 L70.6 254.3 L70.5 254.4 L70.5 254.5 L70.5 254.6 L70.5 254.7 L70.5 254.8 L70.4 254.9 L70.4 255.0 L70.4 255.1 L70.4 255.3 L70.4 255.4 L70.4 255.5 L70.3 255.6 L70.3 255.7 L70.3 255.8 L70.3 255.9 L70.3 256.0 L70.3 256.1 L70.2 256.2 L70.2 256.3 L70.2 256.4 L70.2 256.5 L70.2 256.6 L70.1 256.8 L70.1 256.9 L70.1 257.0 L70.1 257.1 L70.1 257.2 L70.1 257.3 L70.0 257.4 L70.0 257.5 L70.0 257.6 L70.0 257.7 L70.0 257.8 L69.9 257.9 L69.9 258.1 L69.9 258.2 L69.9 258.3 L69.9 258.4 L69.9 258.5 L70.7 253.2 L71.6 248.1 L72.5 243.2 L73.3 238.4 L74.2 233.8 L75.1 229.3 L75.9 225.0 L76.8 220.8 L77.7 216.7 L78.6 212.8 L79.4 209.1 L80.3 205.5 L81.2 202.1 L82.0 198.9 L82.9 195.9 L83.8 192.8 L84.6 189.6 L85.5 186.3 L86.4 182.9 L87.2 179.7 L88.1 176.4 L89.0 173.1 L89.9 169.9 L90.7 167.1 L91.6 164.8 L92.5 162.7 L93.3 160.8 L94.2 159.0 L95.1 157.1 L95.9 155.1 L96.8 153.0 L97.7 150.8 L98.6 148.6 L99.4 146.5 L100.3 144.3 L101.2 142.3 L102.0 140.3 L102.9 138.4 L103.8 136.5 L104.6 134.7 L105.5 132.9 L106.4 131.3 L107.2 129.8 L108.1 128.3 L109.0 126.8 L109.9 125.4 L110.7 124.0 L111.6 122.6 L112.5 121.3 L113.3 120.0 L114.2 118.7 L115.1 117.4 L115.9 116.1 L116.8 114.9 L117.7 113.6 L118.5 112.3 L119.4 111.1 L120.3 109.9 L121.2 108.7 L122.0 107.6 L122.9 106.5 L123.8 105.4 L124.6 104.4 L125.5 103.5 L126.4 102.5 L127.2 101.6 L128.1 100.8 L129.0 99.9 L129.8 99.1 L130.7 98.2 L131.6 97.4 L132.5 96.6 L133.3 95.9 L134.2 95.1 L135.1 94.4 L135.9 93.6 L136.8 92.9 L137.7 92.2 L138.5 91.5 L139.4 90.8 L140.3 90.2 L141.2 89.5 L142.0 88.9 L142.9 88.2 L143.8 87.6 L144.6 87.0 L145.5 86.3 L146.4 85.7 L147.2 85.1 L148.1 84.5 L149.0 83.9 L149.8 83.3 L150.7 82.7 L151.6 82.2 L152.5 81.6 L153.3 81.1 L154.2 80.6 L155.1 80.0 L155.9 79.5 L156.8 79.0 L157.7 78.5 L158.5 78.0 L159.4 77.5 L160.3 77.0 L161.1 76.5 L162.0 76.0 L162.9 75.5 L163.8 75.0 L164.6 74.5 L165.5 74.0 L166.4 73.6 L167.2 73.1 L168.1 72.7 L169.0 72.2 L169.8 71.8 L170.7 71.4 L171.6 71.0 L172.4 70.6 L173.3 70.2 L174.2 69.8 L175.1 69.5 L175.9 69.1 L176.8 68.8 L177.7 68.4 L178.5 68.1 L179.4 67.8 L180.3 67.5 L181.1 67.2 L182.0 66.9 L182.9 66.6 L183.8 66.3 L184.6 66.0 L185.5 65.7 L186.4 65.4 L187.2 65.1 L188.1 64.8 L189.0 64.6 L189.8 64.3 L190.7 64.0 L191.6 63.8 L192.4 63.5 L193.3 63.2 L194.2 63.0 L195.1 62.7 L195.9 62.5 L196.8 62.2 L197.7 62.0 L198.5 61.7 L199.4 61.5 L200.3 61.2 L201.1 61.0 L202.0 60.7 L202.9 60.5 L203.7 60.2 L204.6 60.0 L205.5 59.7 L206.4 59.5 L207.2 59.3 L208.1 59.0 L209.0 58.8 L209.8 58.6 L210.7 58.3 L211.6 58.1 L212.4 57.9 L213.3 57.7 L214.2 57.4 L215.1 57.2 L215.9 57.0 L216.8 56.8 L217.7 56.6 L218.5 56.3 L219.4 56.1 L220.3 55.9 L221.1 55.7 L222.0 55.5 L222.9 55.3 L223.7 55.1 L224.6 54.9 L225.5 54.7 L226.4 54.4 L227.2 54.2 L228.1 54.0 L229.0 53.8 L229.8 53.6 L230.7 53.4 L231.6 53.2 L232.4 53.0 L233.3 52.8 L234.2 52.6 L235.0 52.4 L235.9 52.2 L236.8 52.0 L237.7 51.8 L238.5 51.6 L239.4 51.5 L240.3 51.3 L241.1 51.1 L242.0 50.9 L242.9 50.7 L243.7 50.5 L244.6 50.3 L245.5 50.2 L246.3 50.0 L247.2 49.8 L248.1 49.6 L249.0 49.5 L249.8 49.3 L250.7 49.1 L251.6 49.0 L252.4 48.8 L253.3 48.7 L254.2 48.5 L255.0 48.3 L255.9 48.2 L256.8 48.0 L257.7 47.9 L258.5 47.7 L259.4 47.6 L260.3 47.4 L261.1 47.3 L262.0 47.1 L262.9 47.0 L263.7 46.9 L264.6 46.7 L265.5 46.6 L266.3 46.4 L267.2 46.3 L268.1 46.2 L269.0 46.0 L269.8 45.9 L270.7 45.7 L271.6 45.6 L272.4 45.5 L273.3 45.3 L274.2 45.2 L275.0 45.1 L275.9 44.9 L276.8 44.8 L277.6 44.7 L278.5 44.6 L279.4 44.4 L280.3 44.3 L281.1 44.2 L282.0 44.1 L282.9 43.9 L283.7 43.8 L284.6 43.7 L285.5 43.6 L286.3 43.4 L287.2 43.3 L288.1 43.2 L288.9 43.1 L289.8 43.0 L290.7 42.9 L291.6 42.7 L292.4 42.6 L293.3 42.5 L294.2 42.4 L295.0 42.3 L295.9 42.2 L296.8 42.1 L297.6 42.0 L298.5 41.9 L299.4 41.7 L300.3 41.6 L301.1 41.5 L302.0 41.4 L302.9 41.3 L303.7 41.2 L304.6 41.1 L305.5 41.0 L306.3 40.9 L307.2 40.8 L308.1 40.7 L308.9 40.6 L309.8 40.5 L310.7 40.4 L311.6 40.3 L312.4 40.2 L313.3 40.1 L314.2 40.1 L315.0 40.0 L315.9 39.9 L316.8 39.8 L317.6 39.7 L318.5 39.6 L319.4 39.5 L320.2 39.4 L321.1 39.3 L322.0 39.2 L322.9 39.1 L323.7 39.1 L324.6 39.0 L325.5 38.9 L326.3 38.8 L327.2 38.7 L328.1 38.6 L328.9 38.5 L329.8 38.4" stroke="#ff00ff" stroke-width="0.9" stroke-linejoin="round"/>
</g>
<path d="M57.2 14.0V207.35" stroke="#3a3a3a" stroke-width="1.15" opacity="0.55" fill="none"/>
<g font-family="'Liberation Sans', sans-serif" font-size="11.8" fill="#1a1a1a">
<text x="50.1" y="18.6" text-anchor="end">0</text>
<text x="50.1" y="57.2" text-anchor="end">-0.5</text>
<text x="50.1" y="95.9" text-anchor="end">-1</text>
<text x="50.1" y="134.6" text-anchor="end">-1.5</text>
<text x="50.1" y="173.2" text-anchor="end">-2</text>
<text x="50.1" y="211.9" text-anchor="end">-2.5</text>
<text x="58.7" y="224.0" text-anchor="middle">0</text>
<text x="100.9" y="224.0" text-anchor="middle">10</text>
<text x="143.1" y="224.0" text-anchor="middle">20</text>
<text x="185.3" y="224.0" text-anchor="middle">30</text>
<text x="227.5" y="224.0" text-anchor="middle">40</text>
<text x="269.7" y="224.0" text-anchor="middle">50</text>
<text x="311.9" y="224.0" text-anchor="middle">60</text>
</g>
<g font-family="'Liberation Serif', serif" fill="#505050" font-size="12">
<g transform="rotate(-90)">
<text x="-138.9" y="16.2" >I</text>
<text x="-133.3" y="16.2" >m</text>
<text x="-120.2" y="16.2" >Σ</text>
<text x="-112.0" y="16.2" >(</text>
<text x="-107.8" y="16.2" >i</text>
<text x="-104.0" y="16.2" font-style="italic" font-size="13">ν</text>
<text x="-98.6" y="18.6" font-style="italic" font-size="8.5">n</text>
<text x="-93.2" y="16.2" >)</text>
</g>
<text x="190.9" y="241" font-size="11.8" font-style="italic">ν</text>
<text x="196.4" y="242.8" font-size="8.5" font-style="italic">n</text>
<text x="272.3" y="161.0" font-size="11.7" text-anchor="end">14</text>
<path d="M249.0 156.7h7.9M249.0 158.8h7.9" stroke="#505050" stroke-width="0.7" fill="none"/>
<text x="240.9" y="162.5" font-size="8.5" text-anchor="start">0</text>
<text x="241.2" y="161.0" font-size="11.5" font-style="italic" text-anchor="end">ω</text>
<path d="M285 153.45h29.9" stroke="#ff0000" stroke-width="0.95" fill="none" opacity="0.8"/>
<text x="272.3" y="175.6" font-size="11.7" text-anchor="end">8</text>
<path d="M255.1 171.3h7.9M255.1 173.4h7.9" stroke="#505050" stroke-width="0.7" fill="none"/>
<text x="247.0" y="177.1" font-size="8.5" text-anchor="start">0</text>
<text x="247.3" y="175.6" font-size="11.5" font-style="italic" text-anchor="end">ω</text>
<path d="M285 168.30h29.9" stroke="#00ff00" stroke-width="0.95" fill="none" opacity="0.8"/>
<text x="272.3" y="190.2" font-size="11.7" text-anchor="end">4</text>
<path d="M255.1 185.9h7.9M255.1 188.0h7.9" stroke="#505050" stroke-width="0.7" fill="none"/>
<text x="247.0" y="191.7" font-size="8.5" text-anchor="start">0</text>
<text x="247.3" y="190.2" font-size="11.5" font-style="italic" text-anchor="end">ω</text>
<path d="M285 182.70h29.9" stroke="#0000ff" stroke-width="0.95" fill="none" opacity="0.8"/>
<text x="272.3" y="204.8" font-size="11.7" text-anchor="end">2</text>
<path d="M255.1 200.5h7.9M255.1 202.6h7.9" stroke="#505050" stroke-width="0.7" fill="none"/>
<text x="247.0" y="206.3" font-size="8.5" text-anchor="start">0</text>
<text x="247.3" y="204.8" font-size="11.5" font-style="italic" text-anchor="end">ω</text>
<path d="M285 197.40h29.9" stroke="#ff00ff" stroke-width="0.95" fill="none" opacity="0.8"/>
</g>
</svg>
</body></html>
